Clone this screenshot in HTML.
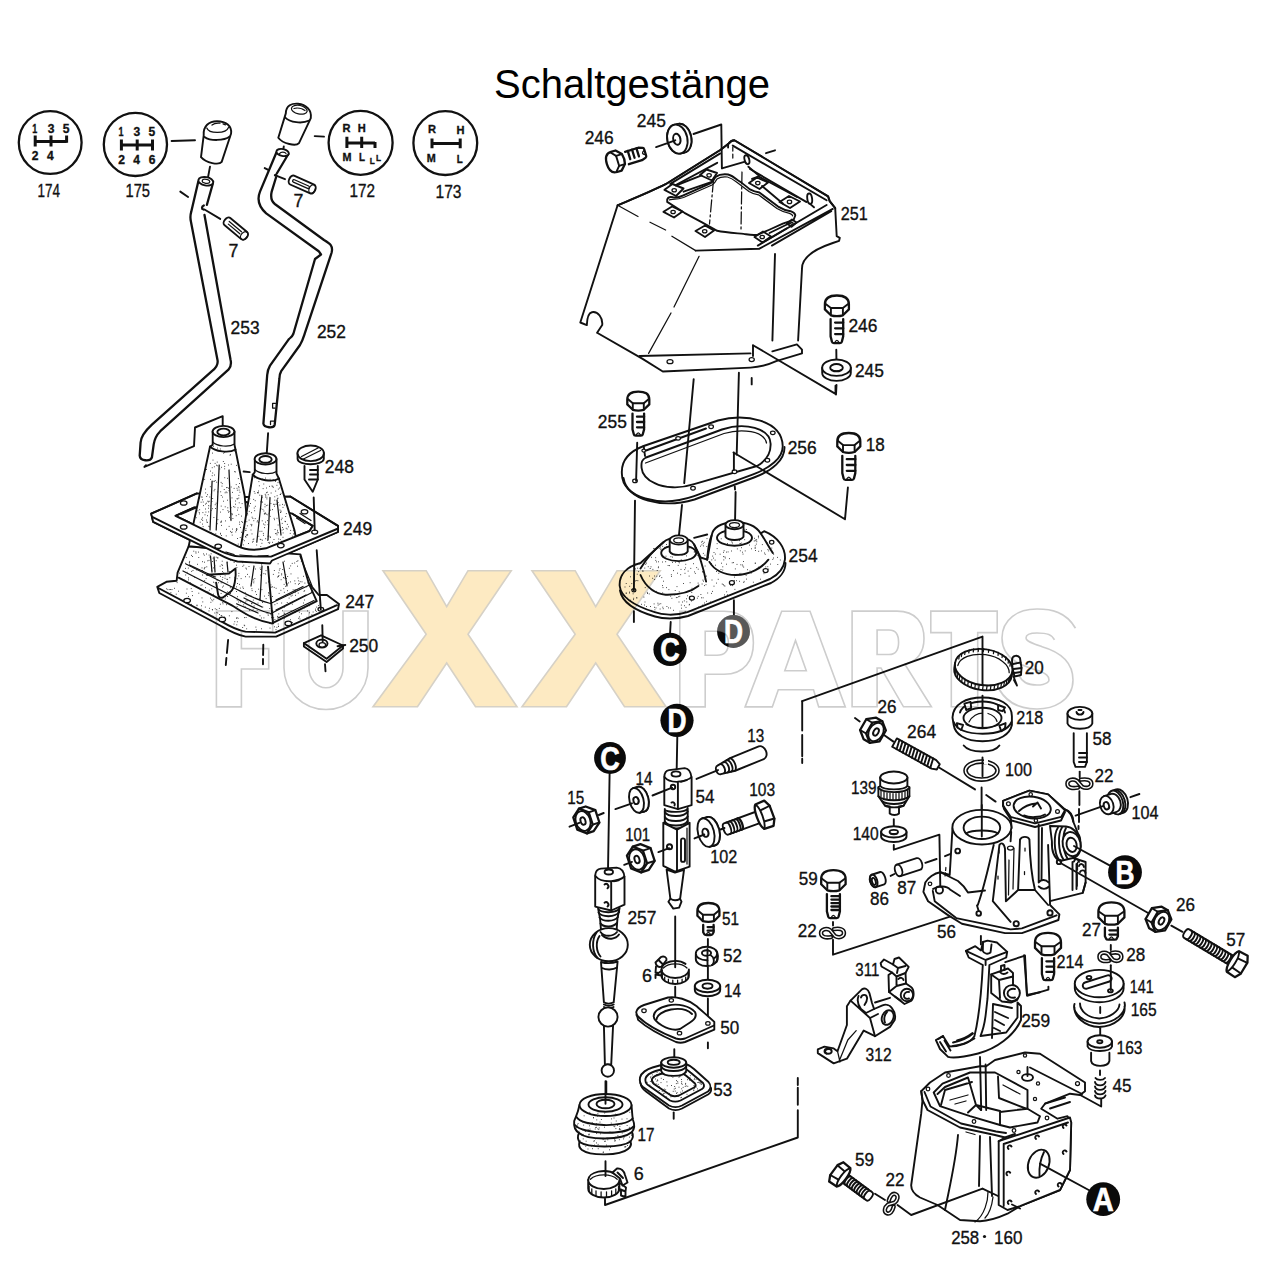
<!DOCTYPE html>
<html><head><meta charset="utf-8">
<title>Schaltgestänge</title>
<style>
html,body{margin:0;padding:0;background:#fff;}
body{width:1280px;height:1280px;overflow:hidden;position:relative;font-family:"Liberation Sans",sans-serif;}
svg{position:absolute;left:0;top:0;}
text{font-family:"Liberation Sans",sans-serif;fill:#111;stroke:#111;stroke-width:0.35;}
.k{fill:none;stroke:#111;stroke-width:1.9;stroke-linecap:round;stroke-linejoin:round;}
.k2{fill:none;stroke:#111;stroke-width:2.3;stroke-linecap:round;stroke-linejoin:round;}
.k3{fill:none;stroke:#111;stroke-width:3;stroke-linecap:butt;stroke-linejoin:round;}
.w{fill:#fff;stroke:#111;stroke-width:1.9;stroke-linecap:round;stroke-linejoin:round;}
.w2{fill:#fff;stroke:#111;stroke-width:2.3;stroke-linecap:round;stroke-linejoin:round;}
.h{fill:none;stroke:#111;stroke-width:1.25;stroke-linecap:round;stroke-linejoin:round;}
.hw{fill:#fff;stroke:#111;stroke-width:1.25;stroke-linecap:round;stroke-linejoin:round;}
.d{fill:none;stroke:#111;stroke-width:1.3;stroke-linecap:butt;stroke-dasharray:14 5;}
.b{fill:#111;stroke:none;}
.wm{fill:none;stroke:#cdcdcd;stroke-width:1.6;stroke-linejoin:miter;}
.wx{fill:#fdeac2;stroke:#d6d1c6;stroke-width:1.6;stroke-linejoin:miter;}
.dot{fill:#333;stroke:none;}
</style></head><body>
<svg width="1280" height="1280" viewBox="0 0 1280 1280">
<rect width="1280" height="1280" fill="#fff"/>
<!-- 00_wm.svg -->
<text x="632" y="97.5" font-size="40" text-anchor="middle" fill="#000" style="fill:#000;stroke:none">Schaltgestänge</text>

<!-- 10_topleft.svg -->
<g id="gearcircles">
<!-- 174 -->
<circle class="k2" cx="50.2" cy="142.5" r="31.4"/>
<path class="k3" d="M35.2,141.6 H66.6 M35.2,135.5 V146.6 M51,135.5 V146.6 M66.6,135.5 V142.7" stroke-width="2.6"/>
<text x="32.2" y="133.0" font-size="12.5" font-weight="bold" textLength="5.0" lengthAdjust="spacingAndGlyphs">1</text><text x="47.7" y="133.0" font-size="12.5" font-weight="bold" textLength="6.7" lengthAdjust="spacingAndGlyphs">3</text><text x="62.7" y="133.0" font-size="12.5" font-weight="bold" textLength="6.7" lengthAdjust="spacingAndGlyphs">5</text>
<text x="31.7" y="160.3" font-size="12.5" font-weight="bold" textLength="6.7" lengthAdjust="spacingAndGlyphs">2</text><text x="46.9" y="160.3" font-size="12.5" font-weight="bold" textLength="6.7" lengthAdjust="spacingAndGlyphs">4</text>
<text x="37.5" y="196.5" font-size="18.5" font-weight="normal" textLength="22.5" lengthAdjust="spacingAndGlyphs">174</text>
<!-- 175 -->
<circle class="k2" cx="135.4" cy="144.4" r="31.6"/>
<path class="k3" d="M121.4,145 H152.5 M121.4,139.5 V150.6 M137.2,139.5 V150.6 M152.5,139.5 V150.6" stroke-width="2.6"/>
<text x="118.5" y="135.6" font-size="12.5" font-weight="bold" textLength="5.0" lengthAdjust="spacingAndGlyphs">1</text><text x="133.6" y="135.6" font-size="12.5" font-weight="bold" textLength="6.7" lengthAdjust="spacingAndGlyphs">3</text><text x="148.6" y="135.6" font-size="12.5" font-weight="bold" textLength="6.7" lengthAdjust="spacingAndGlyphs">5</text>
<text x="118.2" y="164.0" font-size="12.5" font-weight="bold" textLength="6.7" lengthAdjust="spacingAndGlyphs">2</text><text x="133.2" y="164.0" font-size="12.5" font-weight="bold" textLength="6.7" lengthAdjust="spacingAndGlyphs">4</text><text x="148.7" y="164.0" font-size="12.5" font-weight="bold" textLength="6.7" lengthAdjust="spacingAndGlyphs">6</text>
<text x="125.5" y="197.2" font-size="18.5" font-weight="normal" textLength="24.5" lengthAdjust="spacingAndGlyphs">175</text>
<path class="k" d="M171.6,141 L195,140.2"/>
<!-- 172 -->
<circle class="k2" cx="360.6" cy="142.8" r="32"/>
<path class="k3" d="M346.9,143.1 H375 M346.9,136.7 V148 M361.7,136.7 V148 M375,142 V148" stroke-width="2.6"/>
<text x="342.6" y="132.2" font-size="11.5" font-weight="bold" textLength="8.0" lengthAdjust="spacingAndGlyphs">R</text><text x="357.7" y="132.2" font-size="11.5" font-weight="bold" textLength="8.0" lengthAdjust="spacingAndGlyphs">H</text>
<text x="342.4" y="161.4" font-size="11.5" font-weight="bold" textLength="9.0" lengthAdjust="spacingAndGlyphs">M</text><text x="358.9" y="161.4" font-size="11.5" font-weight="bold" textLength="6.0" lengthAdjust="spacingAndGlyphs">L</text>
<text x="369.7" y="164.2" font-size="9.0" font-weight="bold" textLength="5.0" lengthAdjust="spacingAndGlyphs">L</text><text x="376.1" y="160.6" font-size="9.0" font-weight="bold" textLength="5.0" lengthAdjust="spacingAndGlyphs">L</text>
<text x="349.5" y="197.0" font-size="18.5" font-weight="normal" textLength="25.5" lengthAdjust="spacingAndGlyphs">172</text>
<path class="k" d="M314.7,136.1 L324,136.6"/>
<!-- 173 -->
<circle class="k2" cx="445.3" cy="143.1" r="31.9"/>
<path class="k3" d="M432,143.4 H460.2 M432,138.5 V148.3 M460.2,138.5 V148.3" stroke-width="2.6"/>
<text x="428.0" y="133.0" font-size="11.5" font-weight="bold" textLength="8.0" lengthAdjust="spacingAndGlyphs">R</text><text x="456.5" y="133.7" font-size="11.5" font-weight="bold" textLength="8.0" lengthAdjust="spacingAndGlyphs">H</text>
<text x="426.7" y="162.2" font-size="11.5" font-weight="bold" textLength="9.0" lengthAdjust="spacingAndGlyphs">M</text><text x="456.7" y="163.1" font-size="11.5" font-weight="bold" textLength="6.0" lengthAdjust="spacingAndGlyphs">L</text>
<text x="435.5" y="197.8" font-size="18.5" font-weight="normal" textLength="26.0" lengthAdjust="spacingAndGlyphs">173</text>
</g>
<g id="knobs">
<!-- knob 1 -->
<path class="w" d="M203.7,135.3 C203,126 209,121.2 217,121.2 C226,121.2 232,126 231.1,133.5 L221.7,161.9 C219,165.5 206,163 201,157.2 Z"/>
<path class="k" d="M204.5,136.9 C210,141 224,141 229.7,136.5"/>
<path class="h" d="M206.8,128 C209,134 226,134 228.5,127.5"/>
<path class="h" d="M212,125 C214,123.3 218,123 220,123.2 M223,123.8 L225.5,124.8"/>
<path class="k" d="M210,166.6 L207.7,179"/>
<!-- knob 2 -->
<path class="w" d="M285.8,113.4 C286,105 292,103.3 298,103.7 C306,104.5 312,110 310.8,118.1 L299,143.1 C296,146.5 283,144 278.3,137.7 Z"/>
<path class="k" d="M285,117.3 C290,122.5 302,124 309.2,120.5"/>
<ellipse class="h" cx="299.3" cy="109.7" rx="8" ry="4.3" transform="rotate(12 299.3 109.7)"/>
<path class="h" d="M294,108.5 C297,107.5 302,108.5 305,110.5"/>
<path class="k" d="M283.8,146.5 L283.2,150"/>
</g>
<g id="tubes">
<!-- tube 253 -->
<path class="k2" d="M198.3,181.4 L191.2,211.9 C190,216 190.3,219 191,222 L217.5,360 C218.5,365 216,368 211.9,371.2 L151.9,424.7 C144,432 141,437 140.6,442.5 L139.7,455.6 C140,461 150,462 151.9,457.5 L153.7,444.4 C154.5,439 156,435.5 160.3,431.2 L228.7,369.4 C231,366.5 231.5,364 230.6,360 L204.5,215"/>
<path class="k2" d="M212.8,183.7 L206.9,204.8"/>
<ellipse class="w" cx="205.8" cy="181.3" rx="7.5" ry="4.2" transform="rotate(10 205.8 181.3)"/>
<ellipse class="h" cx="206" cy="181.3" rx="3.8" ry="2" transform="rotate(10 206 181.3)"/>
<path class="k2" d="M203.8,205.5 C201.5,206.5 201.5,209 203.5,209.5"/>
<path class="k" d="M204.5,209.5 L220.2,218.9"/>
<path class="k" d="M180.3,191.6 L188.1,197"/>
<!-- pin 7 lower -->
<g transform="translate(236.9,229.5) rotate(40)">
<path class="w" d="M-12.5,-4.6 H9.5 A3.2,4.6 0 0 1 9.5,4.6 H-12.5 A3,4.6 0 0 1 -12.5,-4.6 Z"/>
<ellipse class="h" cx="9.5" cy="0" rx="3" ry="4.4"/>
<path class="h" d="M-11,-1.2 H5 M-10,1.4 H5"/>
</g>
<text x="228.5" y="257.2" font-size="18.5" font-weight="normal" textLength="9.9" lengthAdjust="spacingAndGlyphs">7</text>
<!-- tube 252 -->
<path class="k2" d="M276.4,152.5 L260,191.6 C257,199 258,206 266.2,213.4 L318.7,251.2 L321,254.5 L315,259 L293.4,333.7 C292,337 291,337 288.7,339.4 L270,365.6 C268,369 267.5,371 267.2,375 L263.4,423.7 C264,428 274,428.5 274.7,424.7 L279.4,378.7 C279.5,376 279.8,373.5 281.2,371.2 L300,345 C302.5,341 303,339 304.7,333.7 L331.5,253 C333.5,246 330,243.5 324,240 L274.8,204 C271,201 270.5,197 271.7,191.6 L276,177.5 M276.8,173.5 L288.4,154"/>
<ellipse class="w" cx="282.6" cy="152.5" rx="6.3" ry="3.4" transform="rotate(12 282.6 152.5)"/>
<path class="h" d="M279.5,153.5 C281,151.5 285,151.8 286,153.5"/>
<path class="k" d="M274.8,175.2 L285,179.2"/>
<circle class="b" cx="275.8" cy="175.2" r="1.5"/>
<path class="k" d="M264.7,168.1 L267.8,169.7"/>
<path class="h" d="M275.5,403.3 H272.6 V408 H275"/>
<path class="h" d="M274,421 H270.5 V424.5"/>
<!-- pin 7 upper -->
<g transform="translate(303.5,185.2) rotate(24)">
<path class="w" d="M-12.5,-4.8 H9.5 A3.2,4.8 0 0 1 9.5,4.8 H-12.5 A3,4.8 0 0 1 -12.5,-4.8 Z"/>
<ellipse class="h" cx="9.5" cy="0" rx="3" ry="4.6"/>
<path class="h" d="M-10.5,-1.3 H5 A1.3,1.3 0 0 1 5,1.3 H-10.5 A1.3,1.3 0 0 1 -10.5,-1.3 Z"/>
</g>
<text x="293.5" y="207.2" font-size="18.5" font-weight="normal" textLength="9.9" lengthAdjust="spacingAndGlyphs">7</text>
<text x="230.6" y="333.7" font-size="18.5" font-weight="normal" textLength="29.0" lengthAdjust="spacingAndGlyphs">253</text>
<text x="316.9" y="337.5" font-size="18.5" font-weight="normal" textLength="29.0" lengthAdjust="spacingAndGlyphs">252</text>
<path class="k" d="M144.4,466.9 L146,465.2 M144.4,466.9 L194,446.2 L195,427.5 L222.7,416.2 L222.7,436"/>
<path class="k" d="M268.1,433.1 L266.6,455.6"/>
</g>

<!-- 20_boot.svg -->
<g id="boot">
<!-- plate 249 back -->
<path class="w" d="M151.2,513.7 L196.9,493.4 L245,497 L290.3,496.5 L338,525.9 L338,532 L272,560.5 L270,563.5 L237.5,561.5 C230,560 224,557 219.2,554.4 L153.2,521.9 Z"/>
<path class="k" d="M175.5,515.8 L194,507.5 L246,502 L292.3,513.7 L312.7,525.9 L309.6,531 L265.9,548.3 C256,550.5 245,550 237.5,546.2 Z"/>
<path class="h" d="M181,514.5 L196,508 M181.5,518.5 L190,522.5 M300,513.5 L311,520.5 M296.5,518 L305,523.5"/>
<!-- lower housing 247 -->
<path class="w" d="M157.3,586.9 L166.4,581.8 L176.6,580.8 L177.6,572.7 L188.7,546.2 L300.5,554.4 L308.6,582.8 L318.7,595 L326.9,595 L339,604.1 L338,609.2 L276.1,636.6 L245.6,636.6 C236,635 228,630 220.2,625.5 L159.3,593 Z"/>
<path class="k" d="M158.3,588 L221.2,621.4 C229,626 237,630.5 245.6,631.6 L275.1,632.6 L337,605.2"/>
<path class="k" d="M178.6,577.7 L231.4,605.2 C240,610 252,620 272,623.4 L316.7,601.1 L308.6,582.8"/>
<path class="k" d="M268,566.6 L273,623.4"/>
<path class="h" d="M183,571 L232,596 C245,603 255,610 271,613.5 L312,592.5"/>
<path class="h" d="M186,564 L236,589 C246,594 256,600 270.5,603.5 L309.5,585"/>
<path class="h" d="M189.5,565 L215,577 M276,610 L306,595 M276,600 L303,586.5 M278,618 L314,600.5"/>
<path class="k" d="M207,574.7 L229,573.5 L235.5,568.6 C236.5,578 234,588 231.4,591 L223,597.5 C220,598.5 218.5,597 218,594 L216.2,582.8"/>
<path class="h" d="M210.5,556 L212,572 M214,557 L215,572 M227,562 L228,572"/>
<path class="h" d="M254,566 L251,586 M262,566 L260,600 M283,562 L287,586"/>
<path class="h" d="M244,598 L262,607 M237,604 L258,613"/>
<path class="h" d="M300,556 L312,586"/>
<!-- boot 1 -->
<path class="w" d="M212.7,431.5 V444.7 L210,446.7 L193.8,521.9 L188.7,546.2 L250,552 L244.6,495.5 L235.5,449.8 L234.5,444.7 V431.5"/>
<path class="k" d="M210,446.5 C215,451.5 229,453.5 235.5,449.5"/>
<path class="h" d="M212.7,442 C217,446.5 229,447.5 234.5,444"/>
<ellipse class="w" cx="223.5" cy="431.5" rx="10.9" ry="5.6"/>
<ellipse class="k" cx="223.5" cy="432" rx="6.2" ry="3.4"/>
<path class="h" d="M219.2,465 L216.2,530 M212.1,481.2 L210,530 M229,470 L231,520"/>
<!-- boot 2 -->
<path class="w" d="M254.8,458.9 V472 L252.7,475.2 L241.6,542.2 L240,552 L298,548 L294.4,530 L279.1,479.2 L276.5,473.5 V458.9"/>
<path class="k" d="M252.7,474.5 C258,480.5 273,482.5 279.1,478.5"/>
<path class="h" d="M254.8,469.5 C259,474 271,475 276.5,471.5"/>
<ellipse class="w" cx="265.5" cy="458.9" rx="10.9" ry="5.6"/>
<ellipse class="k" cx="265.5" cy="459.4" rx="6.2" ry="3.4"/>
<path class="h" d="M261.9,495.5 L256.8,542.2 M270,497.5 L268,540 M277,500 L281,535"/>
<path class="k" d="M243.6,471.5 L249.7,472.1"/>
<path d="M235.2,472.0h.01M220.7,491.8h.01M229.1,526.4h.01M239.1,490.1h.01M217.9,519.6h.01M205.5,489.1h.01M217.5,496.6h.01M206.4,469.5h.01M205.7,492.9h.01M239.2,502.8h.01M228.6,465.0h.01M232.9,518.5h.01M238.8,514.4h.01M210.2,505.9h.01M241.6,532.3h.01M221.2,506.1h.01M237.0,488.3h.01M203.2,502.0h.01M231.9,514.8h.01M214.1,490.8h.01M221.4,525.4h.01M222.0,486.1h.01M220.3,449.0h.01M196.2,517.7h.01M215.1,463.4h.01M221.0,546.2h.01M235.6,501.0h.01M221.6,543.2h.01M225.1,492.8h.01M208.4,501.9h.01M236.3,529.7h.01M241.8,521.5h.01M237.7,498.9h.01M224.2,489.5h.01M224.7,466.4h.01M221.2,495.5h.01M213.1,481.3h.01M223.0,509.6h.01M227.0,492.7h.01M203.4,505.6h.01M240.5,527.4h.01M237.0,529.3h.01M207.6,531.9h.01M230.3,454.5h.01M234.8,471.5h.01M199.7,509.7h.01M212.5,453.1h.01M202.5,499.8h.01M232.4,492.4h.01M211.3,494.3h.01M216.6,465.2h.01M221.4,467.3h.01M226.6,529.3h.01M201.7,519.3h.01M202.5,517.9h.01M230.6,501.6h.01M237.0,498.7h.01M205.9,512.1h.01M215.2,504.7h.01M211.2,510.4h.01M246.3,535.3h.01M210.4,533.6h.01M210.6,541.8h.01M234.1,488.4h.01M238.2,544.1h.01M224.7,463.5h.01M240.8,545.3h.01M232.0,497.9h.01M214.3,481.4h.01M205.0,514.8h.01M217.3,465.8h.01M199.5,513.9h.01M209.8,497.0h.01M211.4,534.9h.01M204.7,479.4h.01M247.3,525.8h.01M212.2,467.7h.01M230.4,531.4h.01M241.6,516.1h.01M206.5,520.0h.01M234.9,507.2h.01M239.4,483.5h.01M212.2,475.7h.01M240.8,507.6h.01M245.5,536.5h.01M201.1,502.2h.01M236.5,530.5h.01M212.3,508.7h.01M236.2,484.6h.01M224.7,468.8h.01M242.1,503.6h.01M243.9,492.7h.01M208.8,526.3h.01M230.1,455.4h.01M206.9,521.9h.01M214.3,545.0h.01M207.5,494.7h.01M199.2,512.5h.01M226.1,491.9h.01M243.3,544.9h.01M205.5,509.0h.01M231.1,513.5h.01M207.8,501.2h.01M210.5,471.1h.01M229.1,511.6h.01M210.4,479.4h.01M211.0,532.4h.01M211.9,501.5h.01M225.2,506.8h.01M223.7,453.2h.01M197.9,510.8h.01M209.6,526.8h.01M220.5,534.0h.01M202.2,497.1h.01M235.9,546.5h.01M238.3,478.6h.01M199.6,498.5h.01M210.9,538.1h.01M237.4,538.5h.01M239.4,522.1h.01M231.2,464.2h.01M217.2,462.1h.01M232.5,514.1h.01M246.0,528.4h.01M223.6,501.2h.01M239.9,492.2h.01M215.2,480.5h.01M228.8,488.5h.01M224.7,452.4h.01M213.0,460.1h.01M238.7,486.6h.01M215.5,508.5h.01M222.5,497.1h.01M229.0,490.7h.01M231.0,520.6h.01M206.7,496.5h.01M219.8,469.0h.01M216.1,503.2h.01M243.0,539.6h.01M208.7,511.9h.01M221.5,535.5h.01M202.4,524.1h.01M231.3,532.6h.01M213.9,517.5h.01M233.7,506.6h.01M240.2,537.5h.01M205.6,504.1h.01M234.9,451.3h.01M230.7,519.1h.01M212.7,498.5h.01M202.7,520.4h.01M237.6,510.1h.01M208.3,539.1h.01M235.8,531.9h.01M229.6,517.4h.01M217.9,540.3h.01M237.3,490.2h.01M226.4,487.6h.01M207.3,522.5h.01M217.6,448.1h.01M227.8,507.8h.01M209.2,501.3h.01M208.6,505.7h.01M207.4,515.7h.01M236.7,528.5h.01M220.4,533.3h.01M235.5,504.2h.01M214.6,475.0h.01M199.7,528.4h.01M200.2,522.2h.01M223.4,544.4h.01M235.0,545.3h.01M201.2,497.0h.01M224.8,477.7h.01M221.1,482.4h.01M217.8,491.9h.01M210.3,486.7h.01M236.2,515.7h.01M220.5,512.1h.01M214.3,466.8h.01M226.2,535.9h.01M238.8,498.1h.01M239.0,487.7h.01M234.2,546.7h.01M210.3,463.4h.01M227.4,500.2h.01M213.3,446.4h.01M214.9,489.4h.01M215.8,533.8h.01M225.5,520.9h.01M242.5,522.4h.01M220.5,522.1h.01M228.5,512.2h.01M227.9,487.5h.01M227.9,510.6h.01M244.6,525.8h.01M239.7,524.3h.01M238.0,507.8h.01M212.7,473.0h.01M232.2,535.1h.01M223.3,461.5h.01M238.9,495.4h.01M219.1,450.6h.01M221.5,522.0h.01M216.7,482.2h.01M221.3,542.5h.01M231.2,487.0h.01M231.1,507.7h.01M222.2,483.6h.01M221.5,521.1h.01M202.9,512.6h.01M232.5,529.1h.01M208.4,508.2h.01M206.4,503.2h.01M203.1,526.6h.01M240.8,479.6h.01M232.1,532.1h.01M227.5,478.3h.01M217.2,523.7h.01M236.4,465.4h.01" fill="none" stroke="#222" stroke-width="1.00" stroke-linecap="round"/><path d="M287.1,529.0h.01M278.0,498.2h.01M274.6,519.7h.01M273.2,487.4h.01M265.0,504.3h.01M265.8,495.3h.01M266.9,498.9h.01M262.3,540.2h.01M270.2,516.4h.01M254.4,477.7h.01M259.3,485.8h.01M278.3,489.1h.01M290.2,533.4h.01M281.6,541.3h.01M283.1,532.9h.01M260.8,546.6h.01M282.6,527.5h.01M266.7,514.2h.01M268.3,542.6h.01M268.8,535.9h.01M260.9,539.6h.01M272.5,542.3h.01M281.0,511.0h.01M253.7,499.4h.01M279.7,488.0h.01M269.0,513.3h.01M277.0,518.3h.01M258.6,491.0h.01M269.4,543.3h.01M275.5,481.4h.01M286.2,528.3h.01M277.1,495.7h.01M253.9,539.0h.01M247.4,513.6h.01M253.1,539.4h.01M264.6,527.6h.01M251.0,524.4h.01M251.6,525.8h.01M262.6,479.1h.01M275.1,529.5h.01M283.3,529.3h.01M290.7,530.4h.01M288.5,526.8h.01M267.3,492.2h.01M277.5,498.8h.01M247.2,508.2h.01M273.4,504.3h.01M269.6,486.4h.01M274.6,506.2h.01M246.8,521.7h.01M254.2,508.0h.01M255.2,518.6h.01M275.6,533.6h.01M280.2,494.5h.01M264.6,513.9h.01M263.8,484.0h.01M281.0,493.3h.01M254.2,491.6h.01M269.9,509.4h.01M258.4,522.2h.01M253.2,541.3h.01M265.2,512.8h.01M273.2,479.7h.01M264.3,513.8h.01M285.3,502.4h.01M269.8,542.3h.01M274.8,496.8h.01M287.3,524.4h.01M263.9,511.0h.01M252.9,518.4h.01M261.9,543.3h.01M245.8,530.4h.01M252.1,517.2h.01M262.9,509.4h.01M282.6,504.4h.01M246.0,537.2h.01M277.5,532.0h.01M281.0,511.9h.01M261.1,508.9h.01M270.2,510.4h.01M293.5,533.9h.01M292.3,536.2h.01M257.7,492.7h.01M268.2,494.7h.01M264.9,524.9h.01M249.6,506.0h.01M276.9,485.3h.01M257.7,492.7h.01M278.1,525.0h.01M265.5,513.7h.01M247.7,514.9h.01M293.3,530.4h.01M246.8,513.2h.01M280.5,494.5h.01M279.9,505.1h.01M272.8,486.4h.01M265.6,478.1h.01M274.0,539.5h.01M251.4,512.7h.01M267.8,505.2h.01M280.0,510.0h.01M282.2,523.4h.01M283.0,537.3h.01M253.8,520.7h.01M263.5,524.0h.01M280.3,539.6h.01M277.0,534.8h.01M281.3,519.7h.01M247.1,534.7h.01M282.1,518.2h.01M252.0,533.9h.01M249.1,520.1h.01M265.2,494.3h.01M272.4,509.6h.01M268.0,536.3h.01M277.4,530.3h.01M268.0,524.6h.01M259.8,495.2h.01M245.9,530.3h.01M251.0,530.0h.01M284.3,505.1h.01M278.3,532.7h.01M250.4,503.5h.01M266.9,497.2h.01M270.9,503.5h.01M265.7,538.7h.01M258.4,522.7h.01M267.9,514.8h.01M276.8,533.3h.01M277.1,504.3h.01M276.1,504.2h.01M270.5,537.3h.01M285.0,521.3h.01M258.4,492.8h.01M266.5,492.7h.01M256.7,545.0h.01M247.7,534.9h.01M262.2,502.3h.01M258.9,481.6h.01M266.5,488.0h.01M265.6,497.0h.01M265.6,522.1h.01M251.9,524.8h.01M261.9,501.6h.01M285.6,521.6h.01M263.4,535.3h.01M260.2,539.3h.01M282.0,530.1h.01M257.5,520.8h.01M278.1,502.5h.01M263.1,488.6h.01M267.5,540.3h.01M260.7,501.9h.01M283.0,507.4h.01M271.1,493.0h.01M257.1,521.9h.01M249.8,498.8h.01M255.3,506.3h.01M255.2,500.7h.01M255.0,493.3h.01M274.8,500.2h.01M261.9,531.3h.01M270.1,536.9h.01M260.0,531.3h.01M274.8,504.4h.01M267.4,520.6h.01M258.8,536.3h.01M274.1,518.3h.01M266.3,505.6h.01M270.1,479.3h.01M248.6,543.5h.01M278.6,541.9h.01M251.0,486.6h.01M278.0,482.6h.01M244.3,540.7h.01M254.7,510.7h.01M272.0,486.0h.01M268.9,480.3h.01M252.5,542.1h.01M286.3,513.6h.01M278.7,539.0h.01M249.2,511.4h.01M262.2,520.8h.01M280.6,512.5h.01M247.3,534.9h.01M275.7,491.1h.01M262.1,497.4h.01M265.0,506.8h.01M263.3,533.4h.01M285.7,516.5h.01" fill="none" stroke="#222" stroke-width="1.00" stroke-linecap="round"/><path d="M211.8,588.8h.01M230.2,593.3h.01M214.8,565.6h.01M295.2,583.7h.01M267.1,613.1h.01M251.5,603.6h.01M284.3,592.3h.01M299.3,583.5h.01M278.8,613.9h.01M278.1,617.1h.01M197.6,564.3h.01M266.0,570.6h.01M249.3,576.9h.01M227.5,591.9h.01M260.0,615.8h.01M273.7,617.7h.01M304.7,590.7h.01M278.1,563.8h.01M294.5,591.0h.01M235.8,559.3h.01M278.8,572.8h.01M206.1,578.6h.01M303.6,576.3h.01M242.8,587.0h.01M268.4,592.7h.01M256.6,594.5h.01M309.7,586.0h.01M238.7,602.0h.01M211.7,570.6h.01M236.5,591.5h.01M266.1,583.0h.01M273.3,574.4h.01M277.1,603.4h.01M272.8,620.2h.01M213.6,582.2h.01M261.2,572.0h.01M229.3,571.5h.01M230.1,592.7h.01M220.5,576.3h.01M258.0,603.1h.01M221.8,564.7h.01M290.7,565.9h.01M204.7,580.6h.01M223.5,573.0h.01M294.8,580.9h.01M297.9,560.7h.01M225.5,596.8h.01M302.0,581.8h.01M210.0,557.1h.01M252.4,562.3h.01M291.1,610.9h.01M204.2,568.9h.01M291.1,596.1h.01M291.0,573.9h.01M196.7,569.9h.01M289.3,568.3h.01M226.9,579.3h.01M237.1,578.7h.01M282.5,610.8h.01M271.0,586.9h.01M218.9,573.6h.01M260.7,569.5h.01M304.6,600.0h.01M304.0,591.3h.01M202.6,570.5h.01M271.0,587.4h.01M263.9,573.6h.01M245.1,606.7h.01M227.6,562.8h.01M253.1,609.3h.01M266.2,612.7h.01M185.6,568.4h.01M216.0,587.5h.01M237.6,583.5h.01M186.2,557.5h.01M196.0,553.1h.01M222.6,571.6h.01M227.6,596.5h.01M260.4,575.1h.01M205.2,572.7h.01M278.4,576.5h.01M189.7,561.4h.01M230.6,593.3h.01M287.7,576.5h.01M290.3,594.7h.01M238.8,575.9h.01M247.8,600.7h.01M237.2,600.1h.01M242.8,566.4h.01M253.3,600.1h.01M188.6,579.9h.01M215.1,582.8h.01M270.9,614.6h.01M289.1,598.1h.01M280.9,590.3h.01M191.4,555.4h.01M301.3,561.4h.01M272.5,610.7h.01M311.4,591.4h.01M285.6,586.3h.01M187.1,572.3h.01M257.2,610.1h.01M212.4,561.5h.01M213.4,594.2h.01M283.6,577.5h.01M229.8,577.7h.01M227.4,579.4h.01M274.9,604.7h.01M272.5,586.8h.01M246.0,596.2h.01M306.4,586.8h.01M240.4,601.9h.01M204.5,568.1h.01M206.4,591.9h.01M222.5,565.4h.01M274.9,619.5h.01M260.1,568.0h.01M245.4,576.7h.01M202.6,575.0h.01M245.5,592.9h.01M293.1,589.8h.01M245.7,602.1h.01M298.0,578.0h.01M243.8,565.2h.01M272.7,619.9h.01M297.6,566.2h.01M205.0,567.4h.01M222.3,579.7h.01M219.3,574.7h.01M259.5,598.7h.01M179.6,573.1h.01M239.4,584.4h.01M207.9,591.9h.01M286.3,604.8h.01M219.8,598.7h.01M269.8,608.5h.01M247.4,574.4h.01M278.7,598.9h.01M268.6,595.3h.01M261.9,589.6h.01M268.9,582.3h.01M222.2,561.2h.01M283.8,588.7h.01M281.7,574.9h.01M215.7,576.8h.01M249.0,566.5h.01M285.8,574.6h.01M225.0,578.3h.01M254.1,605.9h.01M194.2,568.3h.01M192.5,556.5h.01M287.2,602.5h.01M204.4,562.2h.01M236.7,603.7h.01M292.3,604.2h.01M234.1,562.5h.01M252.1,590.6h.01M206.8,566.8h.01M255.6,591.7h.01M274.3,570.5h.01M298.5,584.3h.01M262.4,602.5h.01M270.9,584.9h.01M251.6,582.5h.01M205.6,587.7h.01M268.6,581.3h.01M289.1,594.7h.01M185.7,575.0h.01M211.1,553.8h.01M298.2,593.1h.01M281.7,573.8h.01M298.7,580.8h.01M284.1,584.4h.01M193.8,551.2h.01M189.5,563.0h.01M201.0,585.3h.01M276.1,588.3h.01M237.4,596.7h.01M221.1,582.8h.01M284.1,578.1h.01M278.9,575.5h.01M230.3,587.7h.01M261.7,564.8h.01M242.7,562.6h.01M207.8,560.8h.01M234.9,560.6h.01M202.1,584.8h.01M241.1,578.6h.01M234.8,577.7h.01M209.1,555.1h.01M265.4,574.0h.01M195.9,551.9h.01M280.0,568.6h.01M288.4,582.9h.01M213.4,567.9h.01M292.2,595.2h.01M273.7,620.7h.01M221.1,593.5h.01M194.6,577.2h.01M225.2,599.0h.01M281.7,603.0h.01M295.1,589.5h.01M236.4,565.2h.01M287.3,584.0h.01M216.2,560.7h.01M279.1,593.4h.01M277.7,577.0h.01M243.7,604.9h.01M268.1,613.9h.01M300.2,581.7h.01M303.6,603.0h.01M225.1,575.8h.01M188.6,577.9h.01M209.3,590.2h.01M237.1,606.6h.01M262.8,607.1h.01M253.2,562.1h.01M203.4,553.9h.01M190.6,582.9h.01M264.4,596.1h.01M284.7,613.4h.01M226.8,593.2h.01M295.1,592.6h.01M292.2,563.4h.01M253.8,582.8h.01M226.9,584.3h.01M281.1,579.7h.01M269.0,593.4h.01M208.5,574.3h.01M209.0,560.4h.01M263.9,617.9h.01M253.3,579.4h.01M286.4,578.5h.01M204.3,555.2h.01M279.3,570.1h.01M251.0,595.9h.01M217.1,580.4h.01M282.7,569.5h.01M193.0,570.5h.01M230.5,560.1h.01M222.1,582.7h.01M251.9,588.7h.01M218.4,582.7h.01M220.1,566.2h.01M185.6,563.3h.01M285.9,582.9h.01M238.9,573.4h.01M191.7,571.4h.01M236.9,567.5h.01M184.7,580.2h.01M266.1,598.6h.01M213.1,558.2h.01M284.3,607.2h.01M249.5,610.3h.01M255.5,569.0h.01M268.2,615.3h.01M304.9,583.1h.01M271.4,617.6h.01M292.1,593.2h.01M236.4,586.9h.01M202.4,561.7h.01M273.9,622.4h.01M254.9,578.6h.01M227.7,582.1h.01M290.5,581.9h.01M222.5,587.1h.01M258.7,589.2h.01M246.6,569.0h.01M277.5,616.4h.01M230.4,586.6h.01M222.7,568.3h.01M222.8,577.4h.01M217.9,557.9h.01M189.6,565.2h.01M206.5,554.0h.01M252.0,603.7h.01M295.5,595.3h.01M188.3,568.1h.01M245.9,568.1h.01M272.6,596.5h.01M198.4,552.1h.01M284.5,561.2h.01M312.5,588.1h.01M217.7,557.8h.01M198.8,557.5h.01M189.3,562.4h.01M246.2,600.8h.01M287.6,590.7h.01M243.3,588.4h.01M240.3,588.1h.01M294.7,563.0h.01M261.4,618.0h.01M296.9,561.5h.01M202.0,567.9h.01M274.2,587.4h.01M253.9,581.1h.01M223.6,586.0h.01M230.7,571.9h.01M228.6,593.1h.01M216.2,557.2h.01" fill="none" stroke="#222" stroke-width="1.00" stroke-linecap="round"/><path d="M214.8,613.0h.01M289.5,624.6h.01M320.9,610.2h.01M188.6,596.6h.01M209.6,608.3h.01M223.0,619.1h.01M216.8,609.5h.01M170.9,592.7h.01M295.4,612.4h.01M202.0,597.9h.01M191.4,604.4h.01M269.8,622.7h.01M167.9,589.6h.01M169.8,589.6h.01M334.8,605.4h.01M202.8,601.9h.01M307.1,606.4h.01M324.3,609.8h.01M300.0,619.0h.01M219.6,614.5h.01M301.5,613.8h.01M304.2,607.9h.01M170.7,589.5h.01M315.4,609.1h.01M313.1,612.0h.01M184.6,599.5h.01M201.4,605.8h.01M316.7,607.1h.01M236.8,624.8h.01M234.8,621.7h.01M191.2,588.6h.01M255.9,627.1h.01M215.2,608.8h.01M246.1,617.5h.01M223.2,620.1h.01M242.7,627.5h.01M299.3,612.3h.01M174.6,588.3h.01M319.6,600.0h.01M261.6,628.8h.01M269.4,623.4h.01M231.9,611.6h.01M217.8,613.0h.01M176.2,594.2h.01M186.3,593.2h.01M177.1,582.6h.01M284.3,618.3h.01M276.0,629.6h.01M309.4,605.7h.01M172.0,589.6h.01M229.3,615.8h.01M187.0,589.0h.01M201.1,609.2h.01M244.4,617.6h.01M307.6,610.9h.01M274.5,626.8h.01M311.9,614.8h.01M309.4,612.8h.01M292.5,622.6h.01M212.8,600.8h.01M212.9,616.2h.01M299.6,616.9h.01M271.1,623.9h.01M216.9,612.6h.01M205.3,607.1h.01M278.4,626.4h.01M220.3,604.2h.01M212.5,609.9h.01M276.9,627.3h.01M192.1,591.5h.01M278.2,624.0h.01M178.5,591.2h.01M224.1,618.9h.01M166.7,588.8h.01M198.8,593.2h.01M224.4,617.1h.01M226.5,604.7h.01M223.0,603.8h.01M298.7,618.3h.01M212.3,609.5h.01M318.4,605.6h.01M237.3,621.8h.01M192.4,595.6h.01M221.2,615.5h.01M256.3,629.9h.01M219.3,608.4h.01M316.3,611.4h.01M244.2,625.2h.01M197.0,605.1h.01M210.9,602.3h.01M209.0,610.9h.01M213.8,599.3h.01M245.4,614.2h.01M197.0,605.7h.01M211.7,599.8h.01M238.1,618.3h.01M221.8,615.8h.01M246.7,628.8h.01M236.6,618.3h.01M290.6,619.7h.01M278.5,626.3h.01M307.0,617.3h.01M237.0,617.6h.01M315.5,610.4h.01M270.0,628.1h.01M210.4,598.1h.01M244.7,625.7h.01M222.8,602.5h.01M234.0,624.1h.01M185.0,599.4h.01" fill="none" stroke="#222" stroke-width="1.00" stroke-linecap="round"/>
<!-- plate 249 front band -->
<path class="w" d="M151.2,513.7 L175.5,515.8 L237.5,546.2 C245,550 256,550.5 265.9,548.3 L309.6,531 L312.7,525.9 L338,525.9 L338,532 L272,560.5 L270,563.5 L237.5,561.5 C230,560 224,557 219.2,554.4 L153.2,521.9 Z" stroke="none" style="stroke:none"/>
<path class="k" d="M196.9,493.4 L151.2,513.7 L153.2,521.9 L219.2,554.4 C224,557 230,560 237.5,561.5 L270,563.5 L272,560.5 L338,532 L338,525.9 L290.3,496.5"/>
<path class="k" d="M152.2,516.8 L221.2,551.3 C227,554 233,556 239.5,556.4 L271,556.6 L337,529"/>
<path class="k" d="M194,507.5 L175.5,515.8 L237.5,546.2 C245,550 256,550.5 265.9,548.3 L309.6,531 L312.7,525.9 L292.3,513.7"/>
<path class="h" d="M226,552 L234,554.5 M240,555 L252,556 M258,556 L268,555.5" />
<g class="hw">
<ellipse cx="183.7" cy="503" rx="3.3" ry="2.2"/><ellipse cx="183.7" cy="527" rx="3.3" ry="2.2"/><ellipse cx="218.2" cy="546.2" rx="3.3" ry="2.2"/>
<ellipse cx="280.8" cy="545.6" rx="3.3" ry="2.2"/><ellipse cx="304.5" cy="511.7" rx="3.3" ry="2.2"/><ellipse cx="314.7" cy="532" rx="3" ry="2"/>
<ellipse cx="187.1" cy="600.5" rx="3.3" ry="2.2"/><ellipse cx="222.3" cy="619.4" rx="3.3" ry="2.2"/><ellipse cx="288.3" cy="623.4" rx="3.3" ry="2.2"/><ellipse cx="320.8" cy="609.2" rx="2.8" ry="1.8"/>
</g>
<!-- screw 248 -->
<path class="w" d="M297.6,453 V459 C298,466 323,466 323.8,459 V453"/>
<ellipse class="w" cx="310.7" cy="453.3" rx="13.2" ry="7.8"/>
<path class="h" d="M301.5,456.5 L318,448 M303.5,459 L320.5,450.5"/>
<path class="w" d="M304.5,466 V479.5 L312.7,491.8 L317.8,479.5 V466"/>
<path class="k" d="M310,470 H317.8 M310,474.5 H317.8 M309,479.5 H317.8"/>
<text x="324.8" y="473.1" font-size="18.5" font-weight="normal" textLength="29.0" lengthAdjust="spacingAndGlyphs">248</text>
<path class="k" d="M313.7,497.5 L314.7,530 M316.7,550.3 L320.8,609.2"/>
<text x="343.1" y="535.0" font-size="18.5" font-weight="normal" textLength="29.0" lengthAdjust="spacingAndGlyphs">249</text>
<text x="345.2" y="608.2" font-size="18.5" font-weight="normal" textLength="29.0" lengthAdjust="spacingAndGlyphs">247</text>
<!-- nut 250 -->
<path class="w" d="M303.9,643.1 L321.1,635.3 L343,645.5 L326.6,658.7 Z"/>
<path class="k" d="M303.9,643.1 V646.5 L326.6,662 L343,648.5 V645.5"/>
<ellipse class="w" cx="321.9" cy="643.6" rx="5.6" ry="4"/>
<ellipse class="h" cx="322.3" cy="645" rx="3.3" ry="2.3"/>
<path class="k" d="M322.3,625.2 L322.7,641.6 M325,664.2 L325.5,671.2 M337.5,646.2 L345.3,645"/>
<text x="349.2" y="651.9" font-size="18.5" font-weight="normal" textLength="29.0" lengthAdjust="spacingAndGlyphs">250</text>
<path class="k" d="M228.1,640 L226.9,653 M226.4,658 L225.8,665 M263.3,644.7 L263.1,655 M263,659 V664.2"/>
</g>

<!-- 30_cover.svg -->
<g id="cover251">
<!-- main body -->
<path d="M617.6,205.3 C635,198 650,192 665.6,184.2 L720.3,150 L728.1,144.1 C730,141.5 732.5,140.2 734.4,140.2 L828.1,196.4 L829.7,201.1 L835.2,208.1 L836.7,236.2 L839.8,237.8 L839.1,240.9 L832.8,243 C812,250 802,258 802,268.4 L798.1,340.5 L772.4,340.5 L772.4,351.4 L796.9,344.4 L802,349.6 L802,353.4 L776.2,361.2 C768,365 760,367 750.5,367.6 L662.8,371.5 L642.2,358.6 L597.1,332.8 L602.2,325.1 C603,318 598,311 591.9,312.2 C588,313 587,320 586.8,325.1 L580.3,322.5 Z" fill="#fff" stroke="none"/>
<path class="k" d="M617.6,205.3 C635,198 650,192 665.6,184.2 L720.3,150 L728.1,144.1 C730,141.5 732.5,140.2 734.4,140.2 L828.1,196.4 L829.7,201.1 L835.2,208.1 L836.7,236.2 L839.8,237.8 L839.1,240.9 L832.8,243 C812,250 802,258 802,268.4 L798.1,340.5 M772.4,351.4 L796.9,344.4 L802,349.6 L802,353.4 L776.2,361.2 C768,365 760,367 750.5,367.6 L662.8,371.5 L642.2,358.6 L597.1,332.8 L602.2,325.1 C603,318 598,311 591.9,312.2 C588,313 587,320 586.8,325.1 L580.3,322.5 L617.6,205.3"/>
<!-- rims -->
<path class="k" d="M617.6,205.3 C635,198 650,192 665.6,184.2 L720.3,150 L728.1,144.1 C730,141.5 732.5,140.2 734.4,140.2 L828.1,196.4 L829.7,201.1 L835.2,208.1"/>
<path class="k" d="M670.3,183.9 L720.3,153.4 M675.8,185 L717.2,162.8"/>
<path class="k" d="M728.1,147.5 V144.5 M732.8,145.6 L826.6,200.3 M750,169 L806.2,201.9"/>
<path class="h" d="M732.8,147 V160" stroke-dasharray="4 3"/>
<path class="k" d="M832.8,208.9 L759.4,248.7 M826.6,205 L757.8,245.6 M831.2,211.2 L771.9,245.6 M695.7,250.6 L759.4,248.7"/>
<path class="h" d="M617.6,205.3 L638,216.5 M650,222.2 L665.6,230 M671.9,236.2 L695.7,250.6"/>
<path class="k" d="M775,254 L772.4,340.5"/>
<path class="h" d="M699.1,256.3 L674,307 M671,313 L648.6,353.4" />
<path class="k" d="M639.6,356 L750.5,353.4"/>
<path class="k" d="M753,345.2 V356 M753,345.2 L835.5,393.9 V385.7"/>
<!-- top opening frame -->
<path class="k" d="M667.2,199.5 C668,197 670,196.5 673,197.2 C677,198 680,197 682.8,195.6 L710.9,183.1 C713,181.5 714.5,179 715.6,176.9 C719,174.5 724,174 728.1,174.5 C732,175.5 735,178 737.5,180 C741,182 745,185.5 750,189.4 C753,191 756,192 759.4,192.5 L778.1,206.6 C782,209 786,210.5 790.6,211.2 C793,212 795,213.5 795.3,215.2 L793.7,219.8 L782.8,223.7 L768.7,230 L757.8,234.7 C752,235.5 748,234.5 743.7,233.9 C734,233 725,232.5 717.2,230.8 L701.6,222.2 L684.4,212.8 L667.2,201.9 Z"/>
<path class="h" d="M669.5,199.8 C672,199.3 678,199.5 683.5,197.5 L712,185 C714.5,183.5 716,181 717,179 C720,177 724,176.6 727.5,177 C731,178 734,180 736.5,182 L749,191.5 C752,193.5 755,194.3 758.5,194.8 L777,208.5 C781,211 785,212.5 789.5,213.3 C791.5,214 792.5,214.8 792.7,215.8"/>
<path class="k" d="M675.8,185.5 L701.6,175.3 M683.6,191.7 L712.5,181.6 M759.4,176.9 L797,197 M762,186 L782.8,203.4"/>
<path class="k" d="M721.9,168.3 L746.9,161.2 M748.4,166.7 L759.4,176.1 L752,179"/>
<path class="k" d="M664.5,189.8 L672.5,184 L683.5,188.5 L676,196 Z M700,175 L706.5,169.5 L717,173 L712,180.5 Z M749,183 L757,177.5 L768,182.5 L759.5,189 Z M779.5,202 L789,196 L800,201.5 L790,208 Z M787,223.5 L792,219.5 L796.5,222.5 L791.5,226.8 Z M754.5,237 L763,231.5 L771,236.5 L762.5,242.5 Z M695.5,231 L705,225.5 L714,230.5 L705,237 Z M663.5,211.8 L672,206.5 L682.5,211.5 L674,217.5 Z"/>
<g class="hw"><ellipse cx="674.2" cy="190.2" rx="2.2" ry="1.7"/><ellipse cx="709.1" cy="175.3" rx="2.2" ry="1.7"/><ellipse cx="757.8" cy="183.1" rx="2.2" ry="1.7"/><ellipse cx="789.5" cy="201.9" rx="2.2" ry="1.7"/><ellipse cx="791.9" cy="223.3" rx="1.3" ry="1"/><ellipse cx="762.2" cy="237" rx="2.2" ry="1.7"/><ellipse cx="704.7" cy="231.2" rx="2.2" ry="1.7"/><ellipse cx="673.1" cy="212" rx="2.2" ry="1.7"/></g>
<path class="k" d="M769.5,233 L790,223 M766,240.5 L786.5,228.5"/>
<ellipse class="w" cx="746.9" cy="159.7" rx="2.3" ry="4.6" transform="rotate(-15 746.9 159.7)"/>
<ellipse class="w" cx="809.7" cy="198.7" rx="2.4" ry="5.2" transform="rotate(-8 809.7 198.7)"/>
<path class="k" d="M809.7,203.6 L814,207.3"/>
<path class="h" d="M713.5,180 L709.5,224 M742,172 L741,230" stroke-dasharray="12 3 2 3"/>
<g class="hw"><ellipse cx="670" cy="361.7" rx="3" ry="2"/><ellipse cx="751.7" cy="359.5" rx="2.6" ry="2"/></g>
<path class="k" d="M766,153.2 L775,150.3"/>
<!-- leader 245 top -->
<path class="k" d="M693.5,134 L721.3,124.5 L721.9,168.3"/>
<text x="840.7" y="220.1" font-size="18.5" font-weight="normal" textLength="27.0" lengthAdjust="spacingAndGlyphs">251</text>
<!-- washer 245 top-left (tilted) -->
<g transform="translate(680.3,138.5) rotate(-12)">
<path class="w" d="M-3,-14.7 A10,14.7 0 0 0 -3,14.7 L1,14.7 A10,14.7 0 0 0 1,-14.7 Z"/>
<ellipse class="w" cx="1" cy="0" rx="10" ry="14.7"/>
<ellipse class="w" cx="-3" cy="0" rx="10" ry="14.7"/>
<ellipse class="k" cx="-3.5" cy="0" rx="3.6" ry="5.6"/>
<path class="h" d="M-1.5,-4.5 A3.6,5.6 0 0 1 -1.5,4.5"/>
</g>
<path class="k" d="M656.1,147.1 L675.3,140.3"/>
<text x="636.8" y="127.2" font-size="18.5" font-weight="normal" textLength="29.0" lengthAdjust="spacingAndGlyphs">245</text>
<text x="584.7" y="144.2" font-size="18.5" font-weight="normal" textLength="29.0" lengthAdjust="spacingAndGlyphs">246</text>
<!-- bolt 246 top-left (horizontal) -->
<g transform="translate(615.5,161.5) rotate(-107)">
<g>
<path class="w2" d="M-6.5,12.0 V25.7 L-5.1,30.1 Q-4.9,31.0 -3.3,31.0 H3.3 Q4.9,31.0 5.1,30.1 L6.5,25.7 V12.0"/>
<path class="k2" d="M-2.0,14.8 H6.5"/>
<path class="k2" d="M-2.0,19.3 H6.5"/>
<path class="k2" d="M-2.0,23.9 H6.5"/>
<path class="h" d="M-2.2,30.5 Q0,26.0 2.2,30.5"/>
<path class="w2" d="M-10.5,-1.5 C-10.5,-7.2 -6.3,-9.0 0,-9.0 C6.3,-9.0 10.5,-7.2 10.5,-1.5 L10.5,3.2 L5.2,8.3 Q0,9.8 -5.2,8.3 L-10.5,3.2 Z"/>
<path class="k" d="M-9.7,-1.8 L-5.2,2.2 H5.2 L9.7,-1.8"/>
<path class="k" d="M-5.2,2.2 V8.1 M5.2,2.2 V8.1"/>
</g>
</g>
<!-- bolt 246 right -->
<g transform="translate(836.9,305.8)">
<path class="w2" d="M-6.3,13.3 V30.6 L-4.9,36.1 Q-4.7,37.3 -3.1,37.3 H3.1 Q4.7,37.3 4.9,36.1 L6.3,30.6 V13.3"/>
<path class="k2" d="M-1.8,16.8 H6.3"/>
<path class="k2" d="M-1.8,22.5 H6.3"/>
<path class="k2" d="M-1.8,28.3 H6.3"/>
<path class="h" d="M-2.2,36.8 Q0,32.3 2.2,36.8"/>
<path class="w2" d="M-12.0,-1.5 C-12.0,-8.3 -7.2,-10.3 0,-10.3 C7.2,-10.3 12.0,-8.3 12.0,-1.5 L12.0,3.6 L6.0,9.5 Q0,11.1 -6.0,9.5 L-12.0,3.6 Z"/>
<path class="k" d="M-11.2,-1.8 L-6.0,2.2 H6.0 L11.2,-1.8"/>
<path class="k" d="M-6.0,2.2 V9.3 M6.0,2.2 V9.3"/>
</g>
<text x="848.4" y="332.0" font-size="18.5" font-weight="normal" textLength="29.0" lengthAdjust="spacingAndGlyphs">246</text>
<path class="k" d="M836.3,349.8 L836.5,365"/>
<path class="w" d="M822.2,367.7 V372.7 A14.3,8.2 0 0 0 850.8,372.7 V367.7"/>
<ellipse class="w" cx="836.5" cy="367.7" rx="14.3" ry="8.2"/>
<ellipse class="k" cx="836.5" cy="367.7" rx="6.3" ry="3.7"/>
<path class="h" d="M831.5,369.5 A6.3,3.7 0 0 0 841.5,369.5"/>
<path class="k" d="M836.5,385 L836,394.5"/>
<text x="854.9" y="376.6" font-size="18.5" font-weight="normal" textLength="29.0" lengthAdjust="spacingAndGlyphs">245</text>
<!-- bolt 255 -->
<g transform="translate(638.3,401.1)">
<path class="w2" d="M-5.8,12.5 V28.3 L-4.4,33.4 Q-4.2,34.5 -2.6,34.5 H2.6 Q4.2,34.5 4.4,33.4 L5.8,28.3 V12.5"/>
<path class="k2" d="M-1.3,15.6 H5.8"/>
<path class="k2" d="M-1.3,20.9 H5.8"/>
<path class="k2" d="M-1.3,26.2 H5.8"/>
<path class="h" d="M-2.2,34.0 Q0,29.5 2.2,34.0"/>
<path class="w2" d="M-11.0,-1.5 C-11.0,-7.6 -6.6,-9.5 0,-9.5 C6.6,-9.5 11.0,-7.6 11.0,-1.5 L11.0,3.3 L5.5,8.7 Q0,10.2 -5.5,8.7 L-11.0,3.3 Z"/>
<path class="k" d="M-10.2,-1.8 L-5.5,2.2 H5.5 L10.2,-1.8"/>
<path class="k" d="M-5.5,2.2 V8.5 M5.5,2.2 V8.5"/>
</g>
<text x="597.8" y="428.2" font-size="18.5" font-weight="normal" textLength="29.0" lengthAdjust="spacingAndGlyphs">255</text>
<!-- bolt 18 -->
<g transform="translate(848.8,442.9)">
<path class="w2" d="M-6.5,12.9 V30.2 L-5.1,35.7 Q-4.9,36.9 -3.3,36.9 H3.3 Q4.9,36.9 5.1,35.7 L6.5,30.2 V12.9"/>
<path class="k2" d="M-2.0,16.3 H6.5"/>
<path class="k2" d="M-2.0,22.1 H6.5"/>
<path class="k2" d="M-2.0,27.9 H6.5"/>
<path class="h" d="M-2.2,36.4 Q0,31.9 2.2,36.4"/>
<path class="w2" d="M-11.5,-1.5 C-11.5,-7.9 -6.9,-9.9 0,-9.9 C6.9,-9.9 11.5,-7.9 11.5,-1.5 L11.5,3.5 L5.8,9.1 Q0,10.7 -5.8,9.1 L-11.5,3.5 Z"/>
<path class="k" d="M-10.7,-1.8 L-5.8,2.2 H5.8 L10.7,-1.8"/>
<path class="k" d="M-5.8,2.2 V8.9 M5.8,2.2 V8.9"/>
</g>
<text x="865.8" y="451.4" font-size="18.5" font-weight="normal" textLength="19.0" lengthAdjust="spacingAndGlyphs">18</text>
</g>

<!-- 31_gasket.svg -->
<g id="gasket256">
<path class="w" d="M621.9,474 C621,462 628,452 643.7,446 L718,420.5 C745,413 782,420 782.7,446 C783,458 770,468 753.1,474.4 L694.1,496.2 C660,508 622,498 621.9,474 Z"/>
<path class="k" d="M623.5,478 C627,500 662,509 694.5,499.5 L754,477.5 C772,471 785,460 784.5,447"/>
<path class="k" d="M641.6,468 C641,462 642,459.5 646,457.5 L722,429.5 C745,422 770,428 770.6,443.7 C771,454 765,461.5 757,466 L694.1,484.2 C680,489 664,488 654.7,483.1 C647,480 642,474 641.6,468 Z"/>
<path class="h" d="M645.5,463 L724,433.5 C742,428 764,431 766.5,443"/>
<path class="k" d="M643.7,446 L645,456 M646,450.5 L706,428.5"/>
<g class="hw"><ellipse cx="635" cy="480.9" rx="2.3" ry="1.8"/><ellipse cx="643.7" cy="450.5" rx="1.8" ry="1.5"/><ellipse cx="678.1" cy="438.3" rx="2.3" ry="1.8"/><ellipse cx="711.1" cy="426.7" rx="2.3" ry="1.8"/><ellipse cx="772.8" cy="432.8" rx="2.3" ry="1.8"/><ellipse cx="767.4" cy="460.2" rx="2.3" ry="1.8"/><ellipse cx="734.5" cy="471.7" rx="2.3" ry="1.8"/><ellipse cx="693" cy="488.2" rx="2.3" ry="1.8"/></g>
<text x="787.7" y="453.6" font-size="18.5" font-weight="normal" textLength="29.0" lengthAdjust="spacingAndGlyphs">256</text>
</g>
<!-- lines down from cover -->
<path class="k" d="M693.7,379.2 L684.2,483.1 M682,505 L678.7,537.8"/>
<path class="k" d="M738.9,372.8 L736.7,454.7 M733.9,452.5 V470 M733.5,452.5 L845,519.2 L847.9,487.5 M734.8,486.5 L735,489.5 M735.6,491.9 L735,523.6"/>
<path class="k" d="M751.7,378 V384.4"/>

<g id="boot254">
<path class="w" d="M619.7,586 C619,576 625,567 640.5,563 L663.4,542.2 C670,536 690,536 694.1,544.4 L700.6,557.5 L707.2,559.7 L711.6,535.6 C713,527 720,523 734,522 C748,522 756,526 760.8,533.4 L764.1,531.2 C778,537 786,548 784.9,559.7 C784,568 778,575 770,579 L687.5,612.2 C675,616 662,615 654.7,612.2 C635,606 621,598 619.7,586 Z"/>
<path class="k" d="M620,590.5 C622,602 636,611 655,616.5 C663,619 676,619.5 688,616 L771,583 C780,578.5 785.5,571 785.5,563"/>
<path class="k" d="M640.5,568.4 C648,556 656,548 663.4,542.2 M694.1,544.4 C698,552 703,566 706.1,581.6 M707.2,559.7 C708,548 709,541 711.6,535.6 M760.8,533.4 C765,540 769,547 772.8,553.1"/>
<path class="k" d="M640.5,575 C646,588 656,594 665.6,594.7 C680,595 692,591 698.4,586 M709.4,561.9 C714,570 724,575 735.6,575 C750,574.5 762,568 768.4,559.7"/>
<path d="M727.3,532.2h.01M708.3,557.4h.01M689.9,597.1h.01M715.1,560.1h.01M761.6,550.9h.01M670.7,596.2h.01M649.6,576.0h.01M725.3,558.0h.01M732.2,562.8h.01M671.6,576.4h.01M694.6,551.8h.01M751.0,586.1h.01M660.0,575.4h.01M706.5,601.3h.01M740.3,550.8h.01M688.8,591.1h.01M644.8,568.1h.01M626.2,583.5h.01M746.1,575.3h.01M764.4,553.0h.01M734.6,577.1h.01M715.6,565.2h.01M698.1,583.1h.01M629.7,586.3h.01M755.6,550.5h.01M683.5,583.5h.01M629.4,592.1h.01M684.3,600.9h.01M710.5,602.0h.01M665.7,561.7h.01M679.0,602.0h.01M658.3,567.7h.01M717.1,548.6h.01M680.7,574.7h.01M704.9,579.1h.01M731.5,530.6h.01M684.6,560.3h.01M636.8,580.5h.01M721.2,538.8h.01M661.4,555.9h.01M696.7,567.6h.01M676.3,548.8h.01M756.7,539.9h.01M707.0,538.6h.01M662.9,557.5h.01M647.3,592.4h.01M707.7,593.0h.01M674.2,545.2h.01M657.2,570.5h.01M662.5,585.6h.01M777.8,564.5h.01M777.6,557.4h.01M758.6,567.2h.01M727.6,594.8h.01M633.7,582.8h.01M743.7,567.1h.01M649.2,593.9h.01M674.7,594.9h.01M780.3,560.0h.01M686.0,607.4h.01M739.5,540.6h.01M643.9,597.1h.01M677.6,573.2h.01M691.4,601.0h.01M756.3,544.1h.01M661.3,551.2h.01M659.5,576.4h.01M662.6,562.0h.01M641.4,604.3h.01M678.2,565.4h.01M689.2,604.9h.01M702.6,571.7h.01M648.2,566.7h.01M739.6,573.9h.01M673.6,570.6h.01M711.5,593.4h.01M637.2,574.2h.01M660.8,549.8h.01M747.4,569.7h.01M712.6,591.4h.01M770.5,564.1h.01M721.0,569.5h.01M704.4,585.6h.01M694.5,571.9h.01M698.7,607.0h.01M758.6,537.8h.01M639.8,564.0h.01M631.8,583.6h.01M645.2,587.6h.01M728.8,538.3h.01M656.0,607.9h.01M685.5,567.9h.01M646.4,563.1h.01M704.9,555.2h.01M652.1,553.4h.01M739.1,527.7h.01M711.3,563.9h.01M722.8,570.1h.01M626.2,593.0h.01M689.5,604.4h.01M755.1,548.2h.01M644.4,605.0h.01M714.0,586.2h.01M733.5,562.6h.01M724.6,594.9h.01M633.5,599.6h.01M630.7,600.2h.01M694.7,555.2h.01M706.8,546.5h.01M671.3,552.2h.01M745.2,550.9h.01M702.4,541.3h.01M740.9,573.4h.01M651.0,566.8h.01M755.1,563.2h.01M701.5,597.8h.01M684.7,569.6h.01M676.3,597.6h.01M736.5,580.7h.01M686.6,555.9h.01M631.4,589.7h.01M633.7,598.3h.01M666.3,546.8h.01M668.1,565.5h.01M645.7,564.3h.01M663.2,608.7h.01M660.1,609.0h.01M670.9,556.7h.01M698.2,569.2h.01M652.9,569.4h.01M670.0,546.0h.01M716.5,571.5h.01M743.8,582.5h.01M684.1,554.0h.01M739.4,581.3h.01M626.9,597.8h.01M767.1,580.0h.01M642.7,571.0h.01M703.1,597.8h.01M732.6,585.6h.01M637.0,597.9h.01M712.0,580.0h.01M723.2,584.5h.01M702.8,572.0h.01M728.7,531.7h.01M741.5,547.7h.01M740.3,543.6h.01M701.3,558.9h.01M698.9,584.8h.01M746.5,579.1h.01M725.9,532.7h.01M742.6,552.2h.01M730.8,585.5h.01M731.4,551.0h.01M705.1,566.0h.01M767.4,543.1h.01M694.0,549.1h.01M654.4,607.3h.01M654.5,576.0h.01M643.1,571.1h.01M755.3,569.8h.01M657.9,603.2h.01M694.2,552.0h.01M671.9,598.3h.01M758.4,536.3h.01M768.7,550.9h.01M681.2,559.8h.01M679.3,562.8h.01M636.5,597.8h.01M666.9,606.5h.01M660.9,548.9h.01M704.2,542.3h.01M681.4,608.2h.01M738.6,530.3h.01M740.8,564.8h.01M744.1,581.4h.01M697.8,555.6h.01M668.9,589.6h.01M728.1,551.9h.01M711.8,559.9h.01M654.1,603.9h.01M701.9,544.9h.01M659.2,548.2h.01M743.6,561.5h.01M688.1,571.1h.01M682.0,555.1h.01M702.9,580.1h.01M762.3,544.6h.01M664.5,547.4h.01M685.8,564.3h.01M625.0,587.0h.01M767.8,566.7h.01M684.4,605.7h.01M706.0,584.7h.01M726.7,591.8h.01M695.3,573.4h.01M626.2,593.3h.01M658.1,605.1h.01M726.4,552.1h.01M724.9,586.1h.01M706.4,576.1h.01M683.8,545.2h.01M669.5,565.6h.01M765.8,566.9h.01M658.5,547.2h.01M702.1,584.0h.01M689.1,548.1h.01M675.6,562.2h.01M732.5,543.0h.01M703.2,543.6h.01M755.2,545.8h.01M656.3,591.4h.01M668.5,607.9h.01M701.6,542.1h.01M656.6,561.9h.01M643.9,559.8h.01M654.9,609.8h.01M773.7,554.3h.01M650.4,606.5h.01M743.1,528.7h.01M729.5,558.6h.01M681.5,554.5h.01M666.0,556.2h.01M678.7,596.7h.01M755.6,563.2h.01M681.3,605.1h.01M651.6,557.3h.01M687.6,595.8h.01M746.4,529.5h.01M771.8,548.1h.01M675.7,549.4h.01M663.0,587.6h.01M672.0,549.7h.01M658.4,566.9h.01M683.6,547.6h.01M690.8,568.4h.01M720.1,554.2h.01M672.5,557.1h.01M749.0,532.8h.01M652.3,590.7h.01M673.5,610.3h.01M635.6,568.9h.01M737.0,564.4h.01M658.4,561.8h.01M722.2,584.0h.01M729.5,536.4h.01M758.7,551.3h.01M713.4,558.1h.01M741.7,543.1h.01M660.6,547.1h.01M645.0,602.0h.01M715.3,554.1h.01M685.2,611.4h.01M703.6,545.9h.01M753.3,582.2h.01M698.2,596.4h.01M773.5,558.0h.01M762.9,564.6h.01M662.7,592.9h.01M718.2,579.3h.01M655.7,557.7h.01M661.8,577.6h.01M727.4,543.5h.01M731.8,541.9h.01M671.3,543.5h.01M751.2,573.1h.01M685.0,573.3h.01M725.4,533.8h.01M646.8,585.8h.01M687.4,550.4h.01M670.5,608.0h.01M671.3,574.7h.01M678.7,561.8h.01M740.0,543.5h.01M689.7,596.6h.01M686.8,601.9h.01M634.4,579.5h.01M681.0,569.4h.01M637.7,568.2h.01M772.8,559.4h.01M769.2,579.3h.01M756.0,539.8h.01M749.6,545.1h.01M686.6,598.8h.01M756.8,541.7h.01M655.8,560.4h.01M705.3,559.0h.01M744.9,529.3h.01M758.3,536.1h.01M718.8,573.3h.01M723.4,552.3h.01M689.1,576.1h.01M690.1,582.7h.01M693.6,563.7h.01M700.6,546.2h.01M640.9,563.0h.01M634.9,564.0h.01M724.9,533.1h.01M703.0,558.5h.01M651.7,610.4h.01M744.7,539.7h.01M767.9,549.6h.01M754.5,538.3h.01M702.7,605.1h.01M654.1,548.6h.01M703.3,553.4h.01M646.4,606.5h.01M647.6,593.5h.01M638.7,571.6h.01M724.9,556.9h.01M764.0,573.7h.01M723.8,559.9h.01M751.6,548.8h.01M679.2,591.8h.01M742.6,530.2h.01M755.2,547.8h.01M716.5,583.1h.01M721.5,563.2h.01M704.4,603.0h.01M727.7,527.9h.01M656.8,576.2h.01M717.1,543.6h.01M722.8,566.8h.01M635.5,580.9h.01M686.1,548.7h.01M712.7,556.1h.01M726.4,564.2h.01M660.8,603.7h.01M686.8,546.4h.01M629.4,593.0h.01M652.7,578.3h.01M703.5,581.2h.01M754.2,541.0h.01M670.8,551.8h.01M749.1,587.5h.01M742.9,566.0h.01M742.3,564.9h.01M675.2,590.5h.01M737.3,548.9h.01M711.2,563.5h.01M750.0,571.0h.01M663.6,581.2h.01M662.7,546.3h.01M743.0,554.1h.01M765.2,554.3h.01M659.2,604.1h.01M724.0,585.6h.01M697.3,598.2h.01M692.0,588.3h.01M714.0,552.5h.01M654.7,579.5h.01M734.2,580.5h.01M734.9,589.4h.01M630.6,576.8h.01M679.8,596.3h.01M630.6,600.6h.01M724.5,597.0h.01M724.1,550.7h.01M744.9,543.6h.01M672.5,562.4h.01M666.4,587.6h.01M680.5,553.6h.01M760.4,579.2h.01M691.8,592.5h.01M677.0,586.6h.01M708.6,544.6h.01M755.2,540.7h.01M700.9,594.5h.01M650.2,568.5h.01M677.1,597.5h.01M662.8,607.2h.01M666.6,544.5h.01M735.3,568.9h.01M637.9,580.7h.01M633.1,593.8h.01M723.5,556.6h.01M686.0,559.9h.01M653.8,548.6h.01M768.7,569.1h.01M682.4,602.0h.01" fill="none" stroke="#222" stroke-width="1.00" stroke-linecap="round"/>
<ellipse class="k" cx="678.7" cy="553.1" rx="17.5" ry="8"/>
<path class="w" d="M669.7,540 V551.5 C672,556 685,556 687.7,551.5 V540"/>
<ellipse class="w" cx="678.7" cy="540" rx="9" ry="4.6"/>
<ellipse class="h" cx="678.7" cy="540.3" rx="5" ry="2.5"/>
<ellipse class="k" cx="734.5" cy="537.8" rx="17.5" ry="8"/>
<path class="w" d="M725.5,524.7 V536.7 C728,541 741,541 743.5,536.7 V524.7"/>
<ellipse class="w" cx="734.5" cy="524.7" rx="9" ry="4.6"/>
<ellipse class="h" cx="734.5" cy="525" rx="5" ry="2.5"/>
<path class="k" d="M694.1,537.8 L707.2,534.5"/>
<g class="hw"><ellipse cx="633.9" cy="590.3" rx="2" ry="1.6"/><ellipse cx="691.9" cy="598" rx="2.5" ry="2"/><ellipse cx="731.9" cy="582.7" rx="2.5" ry="2"/><ellipse cx="765.6" cy="570.6" rx="2.5" ry="2"/><ellipse cx="771.7" cy="542.2" rx="2.2" ry="1.8"/></g>
<text x="788.6" y="561.9" font-size="18.5" font-weight="normal" textLength="29.0" lengthAdjust="spacingAndGlyphs">254</text>
<path class="k" d="M733.9,600.2 V615.5 M670.7,622 L670,634.1"/>
<path class="k" d="M637.2,442.7 L636.1,480.9 M635,500.6 L633.9,590.3 M633.9,611.1 V622"/>
<circle cx="733.5" cy="631.5" r="16.4" fill="#0a0a0a"/><text x="724.0" y="643.0" font-size="32.5" font-weight="bold" textLength="19.0" lengthAdjust="spacingAndGlyphs" style="fill:#fff;stroke:#fff;stroke-width:0.7">D</text>
<clipPath id="dclip"><circle cx="733.5" cy="631.5" r="16.4"/></clipPath>
<path clip-path="url(#dclip)" fill="#fff" fill-opacity="0.32" fill-rule="evenodd" d="M679.8,611.3 H724 C745,611.3 753.4,625 753.4,642.7 C753.4,660 745,674.2 724,674.2 H705.2 V706.9 H679.8 Z M705.2,631.3 V655.3 H717 C726,655.3 728.4,650 728.4,643.3 C728.4,636.5 726,631.3 717,631.3 Z"/>
<circle cx="670.0" cy="649.4" r="16.6" fill="#0a0a0a"/><text x="660.2" y="660.9" font-size="32.5" font-weight="bold" textLength="19.5" lengthAdjust="spacingAndGlyphs" style="fill:#fff;stroke:#fff;stroke-width:0.7">C</text>
</g>

<!-- 40_mid.svg -->
<g id="midparts">
<circle cx="677.0" cy="720.3" r="16.6" fill="#0a0a0a"/><text x="667.5" y="731.8" font-size="32.5" font-weight="bold" textLength="19.0" lengthAdjust="spacingAndGlyphs" style="fill:#fff;stroke:#fff;stroke-width:0.7">D</text>
<circle cx="610.0" cy="758.0" r="15.9" fill="#0a0a0a"/><text x="600.2" y="769.5" font-size="32.5" font-weight="bold" textLength="19.5" lengthAdjust="spacingAndGlyphs" style="fill:#fff;stroke:#fff;stroke-width:0.7">C</text>
<path class="k" d="M677.3,736.9 L676.6,774 M609.6,774 L608,870.7"/>
<!-- part 54 upper block -->
<path class="w" d="M664.3,805.2 V776.9 C664.5,772 666,770.5 669.1,770.1 L684.8,768.1 C689,768.5 691,772 691.6,777.9 V805.2 L677.9,809.1 Z"/>
<path class="k" d="M664.5,777 C668,781.5 673,782 677.9,781.8 V809.1 M677.9,781.8 C684,781 689,780 691.5,777"/>
<ellipse class="k" cx="676" cy="774" rx="4.5" ry="2.6"/>
<path class="k" d="M680.9,781.8 L686.7,780.2"/>
<circle class="k" cx="673" cy="787" r="2.2"/><path class="k" d="M671.5,802.5 A2.2,2.2 0 0 1 674.5,805.5"/>
<!-- rings -->
<path class="w" d="M664.8,809 C664,813 688,813 687.7,808 V824 C684,830 668,830 664.8,824 Z"/>
<path class="k" d="M664.8,812 C668,817.5 684,817.5 687.7,811.5 M664.8,817 C668,822.5 684,822.5 687.7,816.5 M664.8,821.5 C668,827 684,827 687.7,821"/>
<!-- lower block -->
<path class="w" d="M663.3,822.8 L677,829.6 L689.6,822.8 V866.7 L675,871.6 L663.3,865.8 Z"/>
<path class="k" d="M677,829.6 V871"/>
<rect class="k" x="681" y="838.4" width="4" height="23.5" rx="2"/>
<path class="h" d="M687,828 V864"/>
<circle class="k" cx="669.5" cy="846.8" r="2.6"/>
<!-- taper -->
<path class="w" d="M666.6,869.5 L670.4,898.8 L668.4,901.7 L673.3,908.6 L679.1,907.6 L681.5,901.7 L680.1,898.8 L684,869.8 L675,872.5 Z"/>
<path class="k" d="M670.4,898.8 C673,900.5 677,900.5 680.1,898.8"/>
<path class="k" d="M675.2,916.4 V967.2 M675.2,986.7 V1021.9 M674.3,1049.2 V1058"/>
<!-- pin 13 -->
<g transform="translate(742.8,760.3) rotate(-22.2)">
<path class="w" d="M-25.5,-4.6 L-11,-6.8 H20 A5,6.8 0 0 1 20,6.8 H-11 L-25.5,4.6 A3,4.6 0 0 1 -25.5,-4.6 Z"/>
<path class="k" d="M-22,-4.8 A3,5 0 0 1 -22,4.8 M-18.5,-5.4 A3,5.4 0 0 1 -18.5,5.4 M-15,-6 A3,6 0 0 1 -15,6 M-11.5,-6.6 A3,6.6 0 0 1 -11.5,6.6"/>
</g>
<path class="k" d="M696.5,778.9 L718,770.1"/>
<text x="747.3" y="742.3" font-size="18.5" font-weight="normal" textLength="17.0" lengthAdjust="spacingAndGlyphs">13</text>
<!-- washer 14 upper -->
<g transform="translate(636.5,800.4) rotate(-15.0)">
<path class="w" d="M5.0,-12.7 A7.0,12.7 0 0 1 5.0,12.7 L0.0,12.7 A7.0,12.7 0 0 0 0.0,-12.7 Z"/>
<ellipse class="w" cx="5.0" cy="0" rx="7.0" ry="12.7"/>
<path class="w" d="M5.0,-12.7 H0 V12.7 H5.0" style="stroke:none"/>
<path class="k" d="M5.0,-12.7 H0 M5.0,12.7 H0"/>
<ellipse class="w" cx="0" cy="0" rx="7.0" ry="12.7"/>
<ellipse class="k" cx="-0.5" cy="0" rx="2.6" ry="3.6"/>
<path class="h" d="M1.2,-2.6 A2.6,3.6 0 0 1 1.2,2.6"/>
</g>
<text x="635.4" y="784.7" font-size="18.5" font-weight="normal" textLength="17.0" lengthAdjust="spacingAndGlyphs">14</text>
<path class="k" d="M652.5,795.5 L672.1,787.7 M615.4,809.1 L632,803.3 M598.8,815 L603.7,813"/>
<!-- nut 15 -->
<g transform="translate(583.0,821.0) rotate(-18.0)">
<path class="w2" d="M0.0,13.0 L7.0,13.0 L15.1,6.5 L15.1,-6.5 L7.0,-13.0 L0.0,-13.0 Z"/>
<path class="k" d="M8.1,6.5 L15.1,6.5 M8.1,-6.5 L15.1,-6.5"/>
<path class="w2" d="M0.0,13.0 L8.1,6.5 L8.1,-6.5 L0.0,-13.0 L-8.1,-6.5 L-8.1,6.5 Z"/>
<ellipse class="k" cx="0" cy="0" rx="7.3" ry="10.1"/>
<ellipse class="k" cx="0" cy="0" rx="2.4" ry="3.9"/>
</g>
<path class="k" d="M569.5,826.7 L579.3,822.8"/>
<text x="567.2" y="804.3" font-size="18.5" font-weight="normal" textLength="17.0" lengthAdjust="spacingAndGlyphs">15</text>
<!-- nut 101 -->
<g transform="translate(637.0,859.5) rotate(-18.0)">
<path class="w2" d="M0.0,13.5 L8.0,13.5 L16.4,6.7 L16.4,-6.7 L8.0,-13.5 L0.0,-13.5 Z"/>
<path class="k" d="M8.4,6.7 L16.4,6.7 M8.4,-6.7 L16.4,-6.7"/>
<path class="w2" d="M0.0,13.5 L8.4,6.7 L8.4,-6.7 L0.0,-13.5 L-8.4,-6.7 L-8.4,6.7 Z"/>
<ellipse class="k" cx="0" cy="0" rx="7.6" ry="10.5"/>
<ellipse class="k" cx="0" cy="0" rx="2.4" ry="3.9"/>
</g>
<path class="k" d="M658.4,852.1 L669.1,848.2 M624.2,864.8 L632,861.9"/>
<text x="625.2" y="841.4" font-size="18.5" font-weight="normal" textLength="25.0" lengthAdjust="spacingAndGlyphs">101</text>
<!-- washer 102 -->
<g transform="translate(706.0,832.6) rotate(-15.0)">
<path class="w" d="M5.5,-14.6 A8.0,14.6 0 0 1 5.5,14.6 L0.0,14.6 A8.0,14.6 0 0 0 0.0,-14.6 Z"/>
<ellipse class="w" cx="5.5" cy="0" rx="8.0" ry="14.6"/>
<path class="w" d="M5.5,-14.6 H0 V14.6 H5.5" style="stroke:none"/>
<path class="k" d="M5.5,-14.6 H0 M5.5,14.6 H0"/>
<ellipse class="w" cx="0" cy="0" rx="8.0" ry="14.6"/>
<ellipse class="k" cx="-0.5" cy="0" rx="3.0" ry="4.2"/>
<path class="h" d="M1.2,-3.0 A3.0,4.2 0 0 1 1.2,3.0"/>
</g>
<path class="k" d="M694.5,838.4 L704.3,834.5"/>
<text x="710.2" y="863.4" font-size="18.5" font-weight="normal" textLength="27.0" lengthAdjust="spacingAndGlyphs">102</text>
<!-- bolt 103 -->
<g transform="translate(765.9,814.4) rotate(-20.2)">
<path class="w" d="M-6.5,-6.0 H-42.5 A2.5,6.0 0 0 0 -42.5,6.0 H-6.5 Z"/>
<path class="k" d="M-40.2,-6.0 A2.5,6.0 0 0 1 -40.2,6.0"/>
<path class="k" d="M-37.0,-6.0 A2.5,6.0 0 0 1 -37.0,6.0"/>
<path class="k" d="M-33.7,-6.0 A2.5,6.0 0 0 1 -33.7,6.0"/>
<path class="k" d="M-30.5,-6.0 A2.5,6.0 0 0 1 -30.5,6.0"/>
<path class="k2" d="M-28.0,-6.0 A2.5,6.0 0 0 1 -28.0,6.0"/>
<path class="w2" d="M-6.5,-13.0 L3.2,-13.5 L6.5,-7.0 L6.5,7.0 L3.2,13.5 L-6.5,13.0 A4,13.5 0 0 1 -6.5,-13.0 Z"/>
<path class="k" d="M-3.3,-5.7 L6.5,-6.8 M-3.3,6.1 L6.5,6.8"/>
<path class="k" d="M-6.0,-12.2 A4,13.5 0 0 1 -6.0,12.2"/>
</g>
<path class="k" d="M720.5,829.5 L724.5,828"/>
<text x="749.2" y="796.4" font-size="18.5" font-weight="normal" textLength="26.0" lengthAdjust="spacingAndGlyphs">103</text>
<text x="695.5" y="802.9" font-size="18.5" font-weight="normal" textLength="19.0" lengthAdjust="spacingAndGlyphs">54</text>
<!-- part 257 -->
<path class="w" d="M595.2,906.6 V875.4 C595.5,870.5 598,869 601,868.6 L616.6,867.6 C621,868 624,871 624.5,877.3 V904.7 L611.2,910.5 Z"/>
<path class="k" d="M595.4,876 C599,880.5 606,881.5 611.2,881.2 V910.5 M611.2,881.2 C617,880.5 622,879 624.4,876.5"/>
<ellipse class="k" cx="608.8" cy="872" rx="4.2" ry="2.5"/>
<path class="k" d="M613.7,881.2 L618.6,880.3"/>
<path class="k" d="M604.5,884.5 A2.3,2.3 0 0 1 607.5,888.3 M604.5,902.7 A2.3,2.3 0 0 1 607.5,906.5"/>
<path class="w" d="M598.1,908.5 C600,913 616,914 619.6,908 L617.5,918 L616.6,930 L616,937 H601.5 L601,930 L600,918 Z"/>
<path class="k" d="M598.5,912.5 C602,917.5 615,917.5 619.2,912 M599.5,917.5 C603,922 614,922 618,917 M600.5,923.5 C604,927.5 613,927.5 617,923 M601,929.5 C604,933.5 613,933.5 616.6,929"/>
<ellipse class="w" cx="608.8" cy="944.7" rx="19" ry="16.6"/>
<path class="w" d="M600.5,932 C604,937 613,937 617,932" />
<path class="k" d="M596.5,932.5 C591.5,940 592,952 597.5,958 M599.5,936 C595.5,942 596,951 600.5,956.5 M602,935 C608,941 616,939 619,934.5"/>
<path class="w" d="M601,962 L603.9,1002.3 C606,1004 611,1004 613.7,1002.3 L617.6,961.5 C612,963.5 606,963.5 601,962 Z"/>
<path class="k" d="M602,968 C606,970 613,970 617,967.5"/>
<path class="k" d="M603.9,1004.5 C607,1006 611,1006 613.7,1004.5 M604,1007 C607,1008.5 611,1008.5 613.6,1007"/>
<path class="w" d="M603.9,1025 L604.9,1064.8 L611.2,1064.8 L613.1,1025 Z"/>
<circle class="w" cx="608" cy="1017" r="9.6"/>
<circle class="w" cx="607.8" cy="1070.5" r="6.2"/>
<path class="k" d="M606.3,1081.4 V1103"/>
<text x="627.4" y="924.2" font-size="18.5" font-weight="normal" textLength="29.0" lengthAdjust="spacingAndGlyphs">257</text>
<!-- bolt 51 -->
<g transform="translate(708.4,912.5)">
<path class="w2" d="M-5.2,12.5 V19.7 L-3.9,22.0 Q-3.6,22.5 -2.0,22.5 H2.0 Q3.6,22.5 3.9,22.0 L5.2,19.7 V12.5"/>
<path class="k2" d="M-0.8,14.6 H5.2"/>
<path class="k2" d="M-0.8,18.2 H5.2"/>
<path class="h" d="M-2.2,22.0 Q0,17.5 2.2,22.0"/>
<path class="w2" d="M-11.0,-1.5 C-11.0,-7.6 -6.6,-9.5 0,-9.5 C6.6,-9.5 11.0,-7.6 11.0,-1.5 L11.0,3.3 L5.5,8.7 Q0,10.2 -5.5,8.7 L-11.0,3.3 Z"/>
<path class="k" d="M-10.2,-1.8 L-5.5,2.2 H5.5 L10.2,-1.8"/>
<path class="k" d="M-5.5,2.2 V8.5 M5.5,2.2 V8.5"/>
</g>
<text x="722.1" y="925.2" font-size="18.5" font-weight="normal" textLength="17.0" lengthAdjust="spacingAndGlyphs">51</text>
<path class="k" d="M707.9,938.9 V947.7 M707.9,967.2 V982.8 M707.9,998.4 V1021.9 M707.9,1042.4 V1048.2"/>
<!-- lock washer 52 -->
<path class="w" d="M695.8,954.5 V959 A10.7,7 0 0 0 717.2,959 V954.5"/>
<ellipse class="w" cx="706.5" cy="953.5" rx="10.7" ry="6.8"/>
<ellipse class="k" cx="706.5" cy="953" rx="4.6" ry="2.8"/>
<path class="w" d="M707,956 L710,966 L714,957" style="stroke:none"/>
<path class="k" d="M707.5,949 V966.5 M711,955.5 C714,957 715,962 712.5,965 M716,950.5 C718.5,953 718.5,959 716.5,962"/>
<text x="723.1" y="962.3" font-size="18.5" font-weight="normal" textLength="19.0" lengthAdjust="spacingAndGlyphs">52</text>
<!-- washer 14 lower -->
<path class="w" d="M694.8,986.0 V990.0 A12.7,6.3 0 0 0 720.2,990.0 V986.0"/>
<ellipse class="w" cx="707.5" cy="986.0" rx="12.7" ry="6.3"/>
<ellipse class="k" cx="707.5" cy="986.0" rx="5.0" ry="2.6"/>
<path class="h" d="M703.5,987.8 A5.0,2.6 0 0 0 711.5,987.8"/>
<text x="724.1" y="996.5" font-size="18.5" font-weight="normal" textLength="17.0" lengthAdjust="spacingAndGlyphs">14</text>
<!-- clamp 6 upper -->
<path class="k" d="M661.5,969.5 A13.7,8.5 0 0 1 685.5,963.9"/>
<path class="h" d="M663.4,968.0 A13.7,8.5 0 0 1 687.0,968.0"/>
<path class="w" d="M661.5,969.5 V975.5 A13.7,8.5 0 0 0 688.9,975.5 V969.5 A13.7,8.5 0 0 1 661.5,969.5 Z"/>
<path class="h" d="M662.3,974.5v3.6M664.7,977.1v3.6M668.4,979.0v3.6M672.8,980.0v3.6M677.6,980.0v3.6M682.1,979.0v3.6M685.7,977.1v3.6M688.1,974.5v3.6"/>
<path class="w" d="M655.5,962.5 L661,957 C664,955.5 667,957.5 666.5,960 L661.5,966.5 C659,968 656,966 655.5,962.5 Z"/>
<path class="k" d="M658.5,960 L662.5,964 M656,966.5 L655.5,972.5 L658.5,973 L662,970.5 M655.5,978 V974.5 L661.5,975.5"/>
<text x="642.0" y="981.8" font-size="18.5" font-weight="normal" textLength="10.0" lengthAdjust="spacingAndGlyphs">6</text>
<!-- plate 50 -->
<path class="w" d="M636.2,1012.1 C637,1008 640,1006.5 644,1005 L668,997.5 C676,996 688,999.5 696.7,1006.2 C702,1011 709,1017 714.3,1021.9 V1029.7 L685,1042 C682,1043 679,1043 676,1042 C662,1036 646,1027 638.1,1019.9 Z"/>
<path class="k" d="M636.5,1015 C645,1024 662,1033 676,1038.5 C679,1039.5 682,1039.5 685,1038.5 L714,1025.5"/>
<path class="k" d="M653.7,1016 C654,1011 660,1007.5 668,1005.5 C678,1003 690,1006 695,1012 C697,1016 694,1020 690,1022.5 L680,1029 C675,1030.5 668,1029 662,1025.5 C657,1022.5 653.5,1019.5 653.7,1016 Z"/>
<path class="k" d="M656.5,1019.5 C657,1015 663,1011 671,1009.5 C680,1008 688,1010 692,1014"/>
<g class="hw"><ellipse cx="644" cy="1010.7" rx="2.2" ry="1.8"/><ellipse cx="671.3" cy="1000.3" rx="2.2" ry="1.8"/><ellipse cx="707.9" cy="1023.4" rx="2.2" ry="1.8"/><ellipse cx="679.5" cy="1033.2" rx="2.2" ry="1.8"/></g>
<text x="720.2" y="1033.6" font-size="18.5" font-weight="normal" textLength="19.0" lengthAdjust="spacingAndGlyphs">50</text>
<!-- boot 53 -->
<path class="w" d="M640,1077.5 C641,1073 647,1069 652.5,1067.5 L672,1062 C680,1061 688,1064 694,1069 L708.5,1082 C711,1085 711,1089 708,1091.5 L682,1105.5 C678,1107.5 673,1107.5 669,1105.5 L643,1087 C640,1084.5 639.5,1080.5 640,1077.5 Z"/>
<path class="k" d="M640.5,1083 C641,1087 643,1089.5 646,1091.5 L669,1108.5 C673,1110.5 678,1110.5 682,1108.5 L708,1094.5 C710.5,1093 711.5,1090.5 711,1088"/>
<path class="k" d="M645.5,1078.5 C646.5,1075 651,1072.5 655.5,1071 L672.5,1066.5 C679,1066 686,1068.5 690.5,1072.5 L703,1083 C704.5,1085 704.5,1087.5 702,1089 L680.5,1100.5 C677,1102 673.5,1102 670,1100.5 L648,1085 C646,1083.5 645,1081 645.5,1078.5 Z"/>
<path class="k" d="M652,1079 C653,1076.5 657,1075 660.5,1074 L673,1071 C678,1071 683,1073 686.5,1076 L695,1083.5 C696,1085 696,1086.5 694,1087.5 L679,1095.5 C676,1096.5 673.5,1096.5 671,1095.5 L654,1084 C652.5,1082.5 651.5,1080.5 652,1079 Z"/>
<path d="M671.5,1085.5h.01M698.6,1082.3h.01M674.7,1086.5h.01M656.1,1083.9h.01M681.7,1093.5h.01M650.9,1076.8h.01M683.1,1087.4h.01M675.9,1068.5h.01M656.4,1074.7h.01M647.2,1082.3h.01M670.8,1095.1h.01M675.3,1088.3h.01M674.2,1089.0h.01M671.8,1076.0h.01M693.8,1090.6h.01M663.6,1074.3h.01M689.6,1080.1h.01M694.2,1079.6h.01M697.8,1082.5h.01M690.3,1075.7h.01M650.5,1077.8h.01M652.3,1074.9h.01M677.7,1081.7h.01M653.0,1088.4h.01M652.2,1080.8h.01M657.7,1075.7h.01M657.6,1079.9h.01M694.6,1088.3h.01M657.8,1075.3h.01M689.9,1077.7h.01M650.7,1086.3h.01M659.5,1086.9h.01M666.9,1081.9h.01M700.7,1082.9h.01M678.5,1096.0h.01M656.0,1071.7h.01M659.8,1073.0h.01M696.2,1087.0h.01M669.7,1070.0h.01M659.2,1090.5h.01M679.8,1076.5h.01M677.7,1095.5h.01M680.8,1076.0h.01M671.1,1068.6h.01M655.6,1079.0h.01M678.4,1071.0h.01M666.3,1096.8h.01M701.9,1088.8h.01M685.2,1086.4h.01M673.2,1091.3h.01M649.8,1085.1h.01M687.9,1090.4h.01M665.7,1089.8h.01M669.5,1093.4h.01M695.1,1086.0h.01M681.4,1079.5h.01M679.0,1087.2h.01M687.4,1079.7h.01M687.8,1086.3h.01M670.8,1095.0h.01M673.2,1074.3h.01M685.7,1083.4h.01M680.8,1097.8h.01M662.8,1089.6h.01M657.1,1072.3h.01M697.6,1088.9h.01M670.9,1096.8h.01M664.3,1089.1h.01M656.9,1081.2h.01M696.1,1079.6h.01M679.0,1077.3h.01M653.3,1083.4h.01M661.4,1072.3h.01M671.4,1075.9h.01M657.8,1080.6h.01M681.5,1083.3h.01M663.6,1095.0h.01M686.2,1085.9h.01M663.3,1093.4h.01M671.7,1067.3h.01M681.7,1081.7h.01M681.7,1088.8h.01M684.9,1073.3h.01M672.8,1072.6h.01M686.6,1072.6h.01M661.2,1078.3h.01M685.6,1084.2h.01M680.8,1092.2h.01M668.1,1093.4h.01M653.0,1081.9h.01M681.5,1097.4h.01M667.2,1085.8h.01M699.8,1082.3h.01M683.0,1073.5h.01M687.0,1094.3h.01M682.4,1090.9h.01M676.4,1093.4h.01M694.7,1078.3h.01M650.3,1081.5h.01M677.1,1092.6h.01M673.5,1067.5h.01M664.8,1093.3h.01M675.2,1091.1h.01M693.8,1089.9h.01M699.9,1083.2h.01M658.2,1084.4h.01M662.2,1091.3h.01M682.2,1084.3h.01M694.0,1085.5h.01M663.4,1079.5h.01M701.2,1084.3h.01M678.4,1073.3h.01M676.3,1083.6h.01M701.2,1084.0h.01M668.5,1093.7h.01M677.9,1083.2h.01M676.5,1080.6h.01M661.0,1082.6h.01M652.8,1081.2h.01M672.9,1077.3h.01" fill="none" stroke="#222" stroke-width="1.00" stroke-linecap="round"/>
<path class="w" d="M661.2,1062.5 V1071 C663,1077.5 684,1077.5 686.2,1071 V1062.5"/>
<path class="k" d="M661.2,1066.5 C664,1072.5 683,1072.5 686.2,1066.5"/>
<ellipse class="w" cx="673.7" cy="1062.5" rx="12.5" ry="5.2"/>
<ellipse class="k" cx="673.7" cy="1062.3" rx="6" ry="2.6"/>
<path class="k" d="M673.7,1112.5 V1118.7"/>
<text x="713.2" y="1096.2" font-size="18.5" font-weight="normal" textLength="19.0" lengthAdjust="spacingAndGlyphs">53</text>
<!-- boot 17 -->
<path class="w" d="M579.5,1105 C578,1113 576,1116 574.2,1121 C573.5,1127 576,1131 579,1133 C577.5,1136 577.5,1139 579.5,1142 C578.5,1145 579.5,1148 582,1150 C590,1156 620,1156 628,1149 C630.5,1147 631.5,1144 630.5,1141.5 C633,1138.5 633.5,1135 632,1132 C634.5,1128.5 634.5,1123.5 633,1120 C632,1115 632,1110 631.5,1105 Z"/>
<ellipse class="w" cx="605.5" cy="1105" rx="26" ry="11"/>
<ellipse class="k" cx="605.5" cy="1104.5" rx="17" ry="7.2"/>
<ellipse class="w" cx="605.5" cy="1104" rx="9" ry="4.3"/>
<path class="k" d="M576.5,1117 C582,1127 625,1128 632.5,1118.5 M579,1133 C588,1140.500 622,1140.500 632,1132 M575,1125 C583,1134.500 625,1135.500 633.500,1126.500 M579.5,1142 C588,1148 622,1148 630.5,1141.500"/>
<path d="M603.1,1139.6h.01M614.0,1118.0h.01M576.6,1127.7h.01M591.6,1146.0h.01M615.4,1137.3h.01M607.8,1139.8h.01M584.3,1130.5h.01M580.3,1140.9h.01M595.2,1129.0h.01M624.0,1112.8h.01M605.0,1115.8h.01M582.4,1129.8h.01M583.7,1125.1h.01M611.4,1118.9h.01M615.7,1114.2h.01M585.8,1146.3h.01M598.8,1129.6h.01M610.0,1132.0h.01M597.9,1113.3h.01M596.3,1127.3h.01M615.3,1140.3h.01M582.5,1121.9h.01M596.7,1133.5h.01M622.2,1133.0h.01M600.5,1133.8h.01M588.7,1129.9h.01M598.1,1144.4h.01M581.8,1135.1h.01M586.1,1141.2h.01M578.1,1123.6h.01M595.6,1138.8h.01M579.0,1131.3h.01M587.9,1123.8h.01M603.1,1152.3h.01M603.4,1152.1h.01M596.8,1119.9h.01M619.9,1126.4h.01M589.8,1112.4h.01M604.7,1113.0h.01M594.4,1145.1h.01M623.4,1138.9h.01M589.1,1134.1h.01M603.2,1138.3h.01M627.0,1118.8h.01M592.6,1148.7h.01M605.4,1141.2h.01M616.2,1121.0h.01M592.2,1122.7h.01M614.9,1141.2h.01M600.0,1122.1h.01M607.9,1138.2h.01M619.3,1129.5h.01M609.5,1149.8h.01M621.0,1136.4h.01M595.8,1127.5h.01M617.9,1135.7h.01M627.5,1145.5h.01M606.5,1145.1h.01M597.6,1116.1h.01M596.1,1125.1h.01M629.2,1140.9h.01M606.9,1138.1h.01M583.1,1134.4h.01M615.9,1128.6h.01M590.0,1129.1h.01M594.4,1140.8h.01M584.1,1115.8h.01M593.8,1141.2h.01M619.3,1139.7h.01M629.3,1127.4h.01M601.3,1119.5h.01M614.0,1126.3h.01M589.6,1125.8h.01M629.8,1112.3h.01M596.5,1123.7h.01M587.5,1130.2h.01M604.6,1141.3h.01M585.3,1131.5h.01M610.6,1147.4h.01M590.2,1131.3h.01M624.7,1146.9h.01M589.0,1134.6h.01M619.4,1128.6h.01M614.4,1139.9h.01M631.4,1135.3h.01M614.8,1126.7h.01M617.7,1125.5h.01M604.5,1127.2h.01M593.5,1117.7h.01M588.9,1134.9h.01M590.4,1113.9h.01M621.8,1124.0h.01M629.4,1137.1h.01M598.2,1148.7h.01M627.1,1125.5h.01M583.2,1138.9h.01M624.0,1137.6h.01M620.7,1129.3h.01M611.2,1123.1h.01M599.2,1127.9h.01M597.9,1128.8h.01M622.0,1119.1h.01M587.7,1122.7h.01M631.3,1134.0h.01M625.8,1146.5h.01M596.5,1142.9h.01M593.4,1117.8h.01M625.3,1147.0h.01M588.0,1149.0h.01M577.4,1125.0h.01" fill="none" stroke="#222" stroke-width="1.00" stroke-linecap="round"/>
<path class="k" d="M605.5,1081.2 V1103.7 M605.5,1161.2 V1176"/>
<text x="637.5" y="1140.7" font-size="18.5" font-weight="normal" textLength="17.0" lengthAdjust="spacingAndGlyphs">17</text>
<!-- clamp 6 lower -->
<path class="k" d="M588.2,1180.0 A15.6,9.0 0 0 1 615.5,1174.1"/>
<path class="h" d="M590.4,1179.3 A15.6,9.0 0 0 1 617.2,1179.3"/>
<path class="w" d="M588.2,1180.0 V1188.5 A15.6,9.0 0 0 0 619.4,1188.5 V1180.0 A15.6,9.0 0 0 1 588.2,1180.0 Z"/>
<path class="h" d="M589.1,1186.1v5.1M591.8,1188.8v5.1M596.0,1190.8v5.1M601.1,1191.8v5.1M606.5,1191.8v5.1M611.6,1190.8v5.1M615.8,1188.8v5.1M618.5,1186.1v5.1"/>
<path class="w" d="M612.5,1172.500 L617,1168.500 C621,1168 624,1171 625,1175 L627.500,1182.500 L622.500,1185.500 L620,1178.500 Z"/>
<path class="k" d="M617.500,1172.500 L623,1178 M620.500,1183.500 L626,1187.500 L625.500,1191.500 L620.500,1189.500 M621,1189.500 V1195.500 L625.500,1197 V1191.500"/>
<text x="633.7" y="1179.5" font-size="18.5" font-weight="normal" textLength="10.0" lengthAdjust="spacingAndGlyphs">6</text>
<path class="k" d="M605,1198.7 V1205 L797.8,1137.5 V1110.3"/>
<path class="k" d="M797.8,1078 V1085 M797.8,1087.8 V1104.7"/>
</g>

<!-- 50_ru.svg -->
<g id="rightupper">
<!-- main polyline -->
<path class="k" d="M802.2,701.2 V730.6 M802.2,735 V756.2 M802.2,758.7 V763.1"/>
<!-- clamp 20 -->
<g transform="rotate(8 982.5 669.4)">
<path class="k" d="M954.4,667 A29,18 0 0 1 1012.4,667"/>
<path class="h" d="M957.5,669 A26,15.5 0 0 1 1009.4,669"/>
<path class="w" d="M954.4,667 V672 A29,18 0 0 0 1012.4,672 V667 A29,18 0 0 1 954.4,667 Z"/>
<path class="h" d="M1012.1,669.5v4.5M1011.3,671.9v4.5M1010.0,674.2v4.5M1008.1,676.4v4.5M1005.9,678.4v4.5M1003.2,680.2v4.5M1000.1,681.7v4.5M996.7,683.0v4.5M993.1,684.0v4.5M989.3,684.6v4.5M985.4,685.0v4.5M981.4,685.0v4.5M977.5,684.6v4.5M973.7,684.0v4.5M970.1,683.0v4.5M966.7,681.7v4.5M963.6,680.2v4.5M960.9,678.4v4.5M958.7,676.4v4.5M956.8,674.2v4.5M955.5,671.9v4.5M954.7,669.5v4.5"/>
<path class="h" d="M957.6,662.4v-3.0M959.8,659.6v-3.0M962.8,657.1v-3.0M966.6,654.9v-3.0M970.9,653.3v-3.0M975.7,652.2v-3.0M980.8,651.6v-3.0M986.0,651.6v-3.0M991.1,652.2v-3.0M995.9,653.3v-3.0M1000.2,654.9v-3.0M1004.0,657.1v-3.0M1007.0,659.6v-3.0M1009.2,662.4v-3.0"/>
</g>
<path class="w" d="M1012,660 C1012,655 1018,654.5 1020,658 L1021.5,668 L1021,675 L1014.5,676.5 L1012.500,668 Z"/>
<path class="k" d="M1013,664 L1020.500,662.500 M1013.500,669 L1021.500,668 M1014,673 L1021,672 M1013.500,676.500 L1017,685.500 L1014,680"/>
<text x="1024.7" y="673.5" font-size="18.5" font-weight="normal" textLength="19.0" lengthAdjust="spacingAndGlyphs">20</text>
<!-- 218 -->
<path class="w" d="M952.5,717.5 C953,704 966,697.5 982.5,697.5 C999,697.5 1012,704 1011.9,716.2 V725 C1010,734 1000,741.2 982.5,741.2 C965,741.2 955,734 953.7,725 Z"/>
<path class="k" d="M953.7,722 C957,730 968,733.7 982.5,733.7 C997,733.7 1008,730 1011.5,722"/>
<ellipse class="k" cx="982.5" cy="718" rx="19" ry="10.2"/>
<path class="k" d="M960,712.5 C962,705.500 972,701.500 982.5,701.500 C993,701.500 1003,705.500 1005,712.500"/>
<path class="h" d="M969,722 C972,716 978,713 982.500,713 M988,713.500 C993,715 996,718 997,721.500 M966,724.500 C972,728.500 993,728.500 999,724.500"/>
<path class="w" d="M964.4,703.7 L970.6,701.9 L971.2,708.1 L966.2,710 Z M998.1,705 L1005,707.5 L1002.5,711.2 L998.1,710 Z M956.9,723.1 L963.1,725 L961.2,730 L957.5,727.5 Z M999.4,725.6 L1005.6,723.1 L1005,728.1 L1001.2,731.2 Z"/>
<path class="k" d="M963.7,745.5 C970,753.5 994,753.500 999.400,745.500"/>
<text x="1016.2" y="723.7" font-size="18.5" font-weight="normal" textLength="27.0" lengthAdjust="spacingAndGlyphs">218</text>
<!-- ring 100 -->
<ellipse cx="981.5" cy="770.6" rx="16" ry="9" fill="none" stroke="#111" stroke-width="4.6"/>
<ellipse cx="981.5" cy="770.6" rx="16" ry="9" fill="none" stroke="#fff" stroke-width="1.5"/>
<path d="M984,757 L988,758.500 L988,765 L984,764 Z" fill="#fff"/>
<text x="1005.0" y="775.9" font-size="18.5" font-weight="normal" textLength="27.0" lengthAdjust="spacingAndGlyphs">100</text>
<path class="k" d="M802.2,701.2 L982.5,636.6 V684.4 M982.5,695.6 V727.5 M982.5,757.5 V776.2 M981.6,787.5 V838"/>
<!-- nut 26 left -->
<g transform="translate(876.0,732.0) rotate(30.0) scale(-1,1)">
<path class="w2" d="M0.0,12.5 L7.0,12.5 L14.8,6.2 L14.8,-6.2 L7.0,-12.5 L0.0,-12.5 Z"/>
<path class="k" d="M7.8,6.2 L14.8,6.2 M7.8,-6.2 L14.8,-6.2"/>
<path class="w2" d="M0.0,12.5 L7.8,6.2 L7.8,-6.2 L0.0,-12.5 L-7.8,-6.2 L-7.8,6.2 Z"/>
<ellipse class="k" cx="0" cy="0" rx="7.0" ry="9.8"/>
<ellipse class="k" cx="0" cy="0" rx="2.4" ry="3.9"/>
</g>
<path class="k" d="M855,718.1 L859.7,721.5 M884,735 L893.4,741.6"/>
<text x="877.5" y="712.5" font-size="18.5" font-weight="normal" textLength="19.0" lengthAdjust="spacingAndGlyphs">26</text>
<!-- stud 264 -->
<g transform="translate(916.4,754.7) rotate(29)">
<path class="w" d="M-25,-4.8 H20 L25,-3 V3 L20,4.800 H-25 Z"/>
<path class="k" d="M-22,-4.800 l2,9.600 M-18.500,-4.800 l2,9.600 M-15,-4.800 l2,9.600 M-11.500,-4.800 l2,9.600 M-8,-4.800 l2,9.600 M-4.500,-4.800 l2,9.600 M-1,-4.800 l2,9.600 M2.500,-4.800 l2,9.600 M6,-4.800 l2,9.600 M9.500,-4.800 l2,9.600 M13,-4.800 l2,9.600 M16.500,-4.800 l2,9.600"/>
</g>
<path class="k" d="M939.4,767.8 L975,789.4 M986.2,795 L995.6,801.6"/>
<text x="907.1" y="737.8" font-size="18.5" font-weight="normal" textLength="29.0" lengthAdjust="spacingAndGlyphs">264</text>
<!-- plug 139 -->
<path class="w" d="M880.2,777.5 V786 L878.400,787 V796.200 L885,805.600 L889.700,806.500 V813.500 C892,815.500 897,815.500 899,813.500 V806.500 L903.700,805.600 L909.400,796.200 V787 L907.400,786 V777.500"/>
<ellipse class="w" cx="893.8" cy="777.5" rx="13.6" ry="6"/>
<path class="k" d="M880.2,786 C884,790.5 904,790.500 907.400,786 M878.400,788 C884,793.500 904,793.500 909.400,788 M878.400,796.200 C884,801.500 904,801.500 909.400,796.200 M885,805.600 C888,808 900,808 903.700,805.600 M882,801 C887,805 901,805 906,801"/>
<path class="h" d="M881,790.500 v6 M884,792 v6 M887,792.800 v6 M890,793.300 v6 M893,793.500 v6 M896,793.500 v6 M899,793.200 v6 M902,792.500 v6 M905,791.500 v6 M907.500,790.500 v6"/>
<text x="850.9" y="794.4" font-size="18.5" font-weight="normal" textLength="25.5" lengthAdjust="spacingAndGlyphs">139</text>
<path class="k" d="M893.8,819.1 V828"/>
<path class="w" d="M881.1,831.9 V836.4 A12.7,5.6 0 0 0 906.5,836.4 V831.9"/>
<ellipse class="w" cx="893.8" cy="831.9" rx="12.7" ry="5.6"/>
<ellipse class="k" cx="893.8" cy="831.9" rx="4.2" ry="2.0"/>
<path class="h" d="M890.4,833.7 A4.2,2.0 0 0 0 897.2,833.7"/>
<text x="852.7" y="840.0" font-size="18.5" font-weight="normal" textLength="26.0" lengthAdjust="spacingAndGlyphs">140</text>
<!-- 87 -->
<g transform="translate(909,867) rotate(-18)">
<path class="w" d="M-11,-6 H10 A3.500,6 0 0 1 10,6 H-11 A3.500,6 0 0 1 -11,-6 Z"/>
<path class="k" d="M-11,-6 A3.500,6 0 0 1 -11,6"/>
</g>
<path class="k" d="M890.6,875.9 L894.4,874 M925.3,862.8 L936.6,859 M945,856.2 L956.2,851.6"/>
<text x="897.2" y="893.7" font-size="18.5" font-weight="normal" textLength="19.0" lengthAdjust="spacingAndGlyphs">87</text>
<!-- 86 -->
<g transform="translate(877.5,879.7) rotate(-18)">
<path class="w" d="M-4,-6.500 H5 A3,6.500 0 0 1 5,6.500 H-4 A3.500,6.500 0 0 1 -4,-6.500 Z"/>
<ellipse class="k" cx="-4" cy="0" rx="3.500" ry="6.500"/>
<ellipse class="k" cx="-4" cy="0.5" rx="1.800" ry="3.600"/>
</g>
<text x="870.0" y="904.6" font-size="18.5" font-weight="normal" textLength="19.0" lengthAdjust="spacingAndGlyphs">86</text>
<!-- bolt 59 + clip 22 -->
<g transform="translate(833.4,880.6)">
<path class="w2" d="M-6.5,13.5 V30.8 L-5.1,36.3 Q-4.9,37.5 -3.3,37.5 H3.3 Q4.9,37.5 5.1,36.3 L6.5,30.8 V13.5"/>
<path class="k2" d="M-2.0,15.6 H6.5"/>
<path class="k2" d="M-2.0,19.0 H6.5"/>
<path class="k2" d="M-2.0,22.5 H6.5"/>
<path class="k2" d="M-2.0,25.9 H6.5"/>
<path class="k2" d="M-2.0,29.4 H6.5"/>
<path class="h" d="M-2.2,37.0 Q0,32.5 2.2,37.0"/>
<path class="w2" d="M-12.2,-1.5 C-12.2,-8.4 -7.3,-10.5 0,-10.5 C7.3,-10.5 12.2,-8.4 12.2,-1.5 L12.2,3.7 L6.1,9.7 Q0,11.3 -6.1,9.7 L-12.2,3.7 Z"/>
<path class="k" d="M-11.4,-1.8 L-6.1,2.2 H6.1 L11.4,-1.8"/>
<path class="k" d="M-6.1,2.2 V9.4 M6.1,2.2 V9.4"/>
</g>
<text x="798.7" y="885.3" font-size="18.5" font-weight="normal" textLength="19.0" lengthAdjust="spacingAndGlyphs">59</text>
<path class="k" d="M833,921.9 V925.6 M833,939.7 V954.7 L976.9,907.8"/>
<g transform="translate(832.5,933.1) rotate(0.0)">
<path d="M-1.5,4.0 C-6.9,5.0 -11.5,4.0 -11.5,0.0 C-11.5,-4.0 -6.3,-5.2 -2.5,-3.0 L2.5,3.0 C6.3,5.2 11.5,4.0 11.5,0.0 C11.5,-4.0 6.9,-5.0 1.5,-4.0" fill="none" stroke="#111" stroke-width="4.4" stroke-linecap="round"/>
<path d="M-1.5,4.0 C-6.9,5.0 -11.5,4.0 -11.5,0.0 C-11.5,-4.0 -6.3,-5.2 -2.5,-3.0 L2.5,3.0 C6.3,5.2 11.5,4.0 11.5,0.0 C11.5,-4.0 6.9,-5.0 1.5,-4.0" fill="none" stroke="#fff" stroke-width="1.3" stroke-linecap="round"/>
</g>
<text x="797.8" y="937.4" font-size="18.5" font-weight="normal" textLength="19.0" lengthAdjust="spacingAndGlyphs">22</text>
<text x="937.1" y="937.8" font-size="18.5" font-weight="normal" textLength="19.0" lengthAdjust="spacingAndGlyphs">56</text>
<!-- housing 56 -->
<path class="w" d="M952.5,828.1 L949.7,875 L940.3,872.2 C934,873 928,878 925.3,882.5 L923.4,891.9 L928.1,901.200 L946.9,914.4 L961.9,923.700 L1005,933.1 L1021.9,933.1 L1058.4,920 L1059.4,914.4 L1050,905 L1050,901.200 L1082.8,892.800 L1085.600,882.500 V862 L1073,858 L1077,852 C1081,849 1081.500,838 1078,833.500 L1073.400,822 C1072,815 1069,811 1065,809.500 L1048.100,794.400 L1029.400,790.600 L1003.100,800.900 L1003.100,805.600 L1010.600,816.900 L1011.600,828.100 Z"/>
<ellipse class="w" cx="981.9" cy="827.2" rx="29.5" ry="17.3"/>
<ellipse class="k" cx="981.9" cy="827.8" rx="18.3" ry="11.2"/>
<path class="k" d="M966,833.500 C972,829.500 992,829.500 998,833.500"/>
<path class="k" d="M1011.200,832 L1010.600,841.200"/>
<path class="k" d="M981.8,805 V836.5"/>
<!-- base flange -->
<path class="k" d="M932.8,890.9 L934.7,901.200 L956.2,918.100 L1010.600,929.400 L1021.900,928.400 L1056.600,915.300"/>
<path class="k" d="M940.300,872.200 L948,876 L958,881 C963,885 966,889 968,892.500 M933,889 C938,885.500 947,885.500 950,889.500 L960,896 M968,892.500 L985,890.500"/>
<circle class="k" cx="939.4" cy="890" r="3.600"/><circle class="h" cx="930" cy="883.8" r="1.800"/>
<circle class="k" cx="978.7" cy="913.4" r="2.300"/><circle class="k" cx="1016.2" cy="923.7" r="2.600"/><circle class="k" cx="1050" cy="912.9" r="2.600"/>
<path class="k" d="M977,905.500 L978.700,911"/>
<!-- ribs -->
<path class="k" d="M993.700,845 C990,860 985,885 977.800,905 M999.400,845 L992.800,901.200 L1010.600,921.900 M1005,848.700 L1005.900,901.200 M999.400,845 C1001,842.500 1004,842.500 1005,848.700 M1020,839.400 L1018.100,890 M1029.400,839.400 C1030,860 1032,878 1035,890 L1048.100,905 M1020,839.400 C1022,836 1028,836 1029.400,839.400 M1005.900,901.200 L1018.100,890 L1035,890"/>
<path class="h" d="M999,850 v3 M998,876 v3 M1025,848 v3 M1024.500,871.500 v3 M1009,860 L1008.500,895 M1014,848 L1013,889"/>
<ellipse class="h" cx="1010.500" cy="848" rx="3" ry="2"/>
<!-- right body -->
<path class="k" d="M1038.700,824.400 L1038.700,882.500 M1042,828 L1041.500,880 M1048.100,845 L1050,901.200 M1038.700,882.500 C1041,879 1046,879.500 1048.500,882.500 M1038.700,886.500 C1042,889.500 1046,889.500 1049,886.500"/>
<!-- top plate -->
<path class="w" d="M1003.100,800.900 L1029.400,790.600 L1048.100,794.400 L1065,810.300 L1061.200,816.900 L1035,823.400 L1010.600,816.900 L1003.100,805.600 Z"/>
<path class="k" d="M1003.100,805.600 L1004,809 L1011.500,820.500 L1035,827 L1061,820.500 L1065,812"/>
<ellipse class="k" cx="1032.2" cy="807.5" rx="18.700" ry="10.800" transform="rotate(8 1032.2 807.5)"/>
<path class="k" d="M1019,811 C1024,806.500 1030,804 1036,803.500 M1033,806.500 L1037.500,802.500 L1041,808.500 M1024,815.500 C1030,818 1040,817.500 1045,814.500"/>
<g class="hw"><circle cx="1008.4" cy="803.700" r="1.900"/><circle cx="1030.7" cy="794.400" r="1.700"/><circle cx="1057.500" cy="811.600" r="1.900"/><circle cx="1035.900" cy="820.600" r="1.700"/></g>
<path class="k" d="M1065,809.400 C1070,811 1073,816 1073.400,821.600"/>
<!-- boss -->
<path class="w" d="M1050,826 L1066,826.500 C1072,827 1078,832 1080,840 C1082,848 1080,855 1075,857.500 L1060,861 C1054,858 1051.500,850 1051.900,841.200 Z"/>
<path class="k" d="M1058,827.500 C1053.500,834 1053.500,852 1059,860 M1062,827.500 C1057.500,834 1058,852 1063.500,859.500 M1066,828 C1062,835 1062.500,851 1067.500,858.500"/>
<ellipse class="w" cx="1071.600" cy="844.100" rx="8.900" ry="12.200" transform="rotate(-12 1071.600 844.100)"/>
<ellipse class="k" cx="1071.600" cy="844.800" rx="5" ry="7.200" transform="rotate(-12 1071.600 844.800)"/>
<!-- lower right block -->
<path class="k" d="M1072.500,862 V890 M1076.500,864 V889 M1082.800,892.800 L1085.600,882.500 M1074,861.500 C1075,858 1078.500,858.500 1079,862 M1079,866 C1080,863 1083.500,863.500 1084,867 M1080,872 C1081.500,869.500 1085,870 1085.500,873"/>
<circle class="k" cx="1059" cy="861.900" r="2.200"/>
<path class="k" d="M1060.500,863 L1149,913.500"/>
<!-- hole on cylinder -->
<circle class="k" cx="957.700" cy="851" r="2.400"/>
<path class="h" d="M945.900,867.500 L945,876.900" stroke-dasharray="3 2.500"/>
<path class="k" d="M893.8,845 V849.7 L939.4,834.7 L940.3,886.2"/>
<!-- 58 -->
<path class="w" d="M1073.700,733.100 V762 L1075.500,766.900 H1085 L1086.900,762 V733.100"/>
<path class="k" d="M1079,753 H1086.900 M1079,757.500 H1086.900 M1079,762 H1086.900"/>
<path class="w" d="M1067.500,713.400 V723.500 C1070,730.500 1090,730.500 1092.300,723.500 V713.400"/>
<ellipse class="w" cx="1079.900" cy="713.400" rx="12.400" ry="6.500"/>
<path class="k" d="M1076.500,712 C1077,715.500 1083,715.500 1083.500,712 M1078.500,710 L1081.500,710"/>
<text x="1092.5" y="745.3" font-size="18.5" font-weight="normal" textLength="19.0" lengthAdjust="spacingAndGlyphs">58</text>
<path class="k" d="M1079.700,771.600 V777.200"/>
<g transform="translate(1079.4,783.7) rotate(0.0)">
<path d="M-1.5,4.0 C-7.2,5.0 -12.0,4.0 -12.0,0.0 C-12.0,-4.0 -6.6,-5.2 -2.6,-3.0 L2.6,3.0 C6.6,5.2 12.0,4.0 12.0,0.0 C12.0,-4.0 7.2,-5.0 1.5,-4.0" fill="none" stroke="#111" stroke-width="4.4" stroke-linecap="round"/>
<path d="M-1.5,4.0 C-7.2,5.0 -12.0,4.0 -12.0,0.0 C-12.0,-4.0 -6.6,-5.2 -2.6,-3.0 L2.6,3.0 C6.6,5.2 12.0,4.0 12.0,0.0 C12.0,-4.0 7.2,-5.0 1.5,-4.0" fill="none" stroke="#fff" stroke-width="1.3" stroke-linecap="round"/>
</g>
<text x="1094.4" y="781.9" font-size="18.5" font-weight="normal" textLength="19.0" lengthAdjust="spacingAndGlyphs">22</text>
<path class="k" d="M1079.400,791.200 V805 M1079,809 V822 M1078.500,826 V829" />
<path class="h" d="M1077.500,862 V870 M1077.200,874 V886" />
<!-- 104 -->
<g transform="translate(1112,803.500) rotate(-17)">
<path class="w" d="M3,-12.200 H8 A8,12.200 0 0 1 8,12.200 H3 Z"/>
<ellipse class="w" cx="3.5" cy="0" rx="7.500" ry="12.200"/>
<path class="k" d="M7,-12 A7.500,12.200 0 0 1 7,12"/>
<path class="w" d="M-5.500,-9.400 H2 A6.600,9.400 0 0 1 2,9.400 H-5.500 Z"/>
<ellipse class="w" cx="-5.500" cy="0" rx="6.600" ry="9.400"/>
<ellipse class="k" cx="-6" cy="0.500" rx="2.600" ry="3.800"/>
</g>
<path class="k" d="M1075.600,815.600 L1102.800,806.200 M1130.400,797.200 L1139.400,794"/>
<text x="1131.5" y="819.0" font-size="18.5" font-weight="normal" textLength="27.0" lengthAdjust="spacingAndGlyphs">104</text>
<!-- B -->
<path class="k" d="M1074,846 L1110,865.600"/>
<circle cx="1125.0" cy="872.2" r="16.9" fill="#0a0a0a"/><text x="1115.5" y="883.7" font-size="32.5" font-weight="bold" textLength="19.0" lengthAdjust="spacingAndGlyphs" style="fill:#fff;stroke:#fff;stroke-width:0.7">B</text>
</g>

<!-- 60_rl.svg -->
<g id="rightlower">
<!-- 311 -->
<path class="w" d="M880.6,963.1 L884,959.500 L893,964.500 L894.500,959 L899,957.500 L908.700,966.900 L905.500,973 L906,983.500 L911,987 C914.500,989.500 914.500,998 911,1001 L904.500,1004 L889,992 L888.500,975 L892,972.500 L881.500,966.500 Z"/>
<path class="k" d="M893,964.500 L898,968 L905.500,966 M898,968 L897,973 M892,972.500 L896.500,976.500 L905.500,973 M896.500,976.500 L896.500,986 M889,992 L896.500,986 L906,983.500 M898.500,979 C900,977 903,977.500 903.500,980"/>
<circle class="w" cx="906.9" cy="995" r="6.200"/>
<path class="k" d="M909,992 C906,991.500 904,993.500 904,996 C904,998 906,999.500 909,998.500"/>
<path class="k" d="M900.500,1000.500 L895,996.500"/>
<text x="855.3" y="975.9" font-size="18.5" font-weight="normal" textLength="24.0" lengthAdjust="spacingAndGlyphs">311</text>
<path class="k" d="M875,1002.5 L890,997.8"/>
<!-- 312 -->
<path class="w" d="M850.6,1000.6 L861.9,989.400 C865,987.500 868,989 869.400,993.100 L872,1003 L874.100,1009 L882.500,1005.300 C886,1004 890,1005 891.900,1008.100 C895,1012 895.500,1017 894.700,1020 L890,1026.900 L875,1036.200 L863.700,1030.600 L846.900,1058.700 L833.700,1063.400 L817.800,1053.100 V1049.400 L824.400,1046.600 L833.700,1048.400 L837.500,1051.200 L846.900,1025 V1006.200 Z"/>
<path class="k" d="M861,997.500 C862,994 866.500,994 867,997.500 C867.500,1001 866,1003 864.500,1005 M858.500,996 C857,1000 858,1005 861,1009 L866,1013 L874.100,1009 M850.600,1000.600 L870,1018 L875,1036.200 M870,1018 L878,1014"/>
<ellipse class="k" cx="887.7" cy="1017.5" rx="5.600" ry="7.600" transform="rotate(25 887.7 1017.5)"/>
<path class="k" d="M885,1022.500 C883.500,1019 884.500,1014.500 887,1012"/>
<ellipse class="k" cx="828.1" cy="1051.2" rx="3.600" ry="2.500"/>
<path class="k" d="M826.500,1053.500 C824,1052 825,1049 828.500,1049"/>
<path class="h" d="M837.500,1051.200 L840,1062 M856.200,1030.600 L847.800,1040 L839.400,1060.600"/>
<text x="865.6" y="1060.6" font-size="18.5" font-weight="normal" textLength="26.0" lengthAdjust="spacingAndGlyphs">312</text>
<!-- 259 -->
<path class="k" d="M980.9,935.900 V944.400"/>
<path class="w" d="M965.9,950.900 L975.300,946.200 L981,950.500 L983,942 L987.500,940.600 L996.900,942.500 L1007.200,951.900 L1006.200,957.500 L989.400,965 L987.500,998.700 L986,1012 C985,1022 983,1030 980.500,1036 L1006.200,1032.500 L1017.500,1017.500 L1017.500,1002.500 L1021,1006 L1021,1020 C1014,1036 996,1049 978.100,1053.500 C966,1056.500 954,1058.500 948.100,1056.900 L940,1049 L935.900,1040 L943,1036 L949.500,1046.500 C960,1046.500 970,1043 974.400,1036.200 C978,1022 981,1000 982.800,965 L968.700,957.500 Z"/>
<path class="k" d="M983,942 L982.800,951 C984,954 988,954.500 990.500,952.500 L991.500,944.500 M965.900,950.900 L985.600,960 L1007.200,951.900 M985.600,960 V965"/>
<path class="k" d="M943,1036 L938.500,1039 M940,1042 L946,1051.500 M944.500,1040.500 L950.500,1050.500 M953,1042.500 C960,1041 968,1038 973,1033.500 M953,1046 C961,1045 969,1042 974.400,1038.500 M957,1040.500 C963,1039 968,1036.500 972.500,1033"/>
<path class="w" d="M991.200,974.400 L1008,968.500 L1013,973 L1013,985 C1019,986 1020,996 1017,1000 L1011,1002.500 L1002,1001.500 L991.200,993 Z"/>
<path class="k" d="M991.200,974.400 L999,980 L1013,976.500 M999,980 L1000,998"/>
<circle class="w" cx="1011.9" cy="993.100" r="8"/>
<path class="k" d="M1015,989 C1011,988 1007.500,990.500 1007.500,993.500 C1007.500,996.500 1011,998.500 1015,997.500"/>
<path class="k" d="M1001,971 L1001,966 L1004.500,965 V970 M1000,972 C1002,974.500 1005,974.500 1007.500,972.500"/>
<path class="k" d="M993,1004 L992,1038 M993,1004 L1012,1008 M995,1012 L1008,1018 M995,1020 L1004,1025 M994,1028 L1000,1031"/>
<path class="k" d="M1005.3,962.2 L1025,955.6 L1026.9,995 L1040,992.200"/>
<text x="1021.2" y="1026.9" font-size="18.5" font-weight="normal" textLength="29.0" lengthAdjust="spacingAndGlyphs">259</text>
<!-- bolt 214 -->
<g transform="translate(1048.0,944.0)">
<path class="w2" d="M-6.1,14.2 V30.0 L-4.7,35.1 Q-4.5,36.2 -2.9,36.2 H2.9 Q4.5,36.2 4.7,35.1 L6.1,30.0 V14.2"/>
<path class="k2" d="M-1.6,17.3 H6.1"/>
<path class="k2" d="M-1.6,22.6 H6.1"/>
<path class="k2" d="M-1.6,27.9 H6.1"/>
<path class="h" d="M-2.2,35.7 Q0,31.2 2.2,35.7"/>
<path class="w2" d="M-13.0,-1.5 C-13.0,-8.9 -7.8,-11.2 0,-11.2 C7.8,-11.2 13.0,-8.9 13.0,-1.5 L13.0,3.9 L6.5,10.3 Q0,12.1 -6.5,10.3 L-13.0,3.9 Z"/>
<path class="k" d="M-12.2,-1.8 L-6.5,2.2 H6.5 L12.2,-1.8"/>
<path class="k" d="M-6.5,2.2 V10.1 M6.5,2.2 V10.1"/>
</g>
<text x="1056.6" y="967.7" font-size="18.5" font-weight="normal" textLength="27.0" lengthAdjust="spacingAndGlyphs">214</text>
<path class="k" d="M1048.4,986.600 V989.700 L1027.100,995.800 L1024.100,955.200"/>
<!-- bolt 27 -->
<g transform="translate(1111.4,913.5)">
<path class="w2" d="M-6.5,14.2 V22.8 L-5.1,25.6 Q-4.9,26.2 -3.3,26.2 H3.3 Q4.9,26.2 5.1,25.6 L6.5,22.8 V14.2"/>
<path class="k2" d="M-2.0,16.8 H6.5"/>
<path class="k2" d="M-2.0,21.1 H6.5"/>
<path class="h" d="M-2.2,25.7 Q0,21.2 2.2,25.7"/>
<path class="w2" d="M-13.0,-1.5 C-13.0,-8.9 -7.8,-11.2 0,-11.2 C7.8,-11.2 13.0,-8.9 13.0,-1.5 L13.0,3.9 L6.5,10.3 Q0,12.1 -6.5,10.3 L-13.0,3.9 Z"/>
<path class="k" d="M-12.2,-1.8 L-6.5,2.2 H6.5 L12.2,-1.8"/>
<path class="k" d="M-6.5,2.2 V10.1 M6.5,2.2 V10.1"/>
</g>
<text x="1082.0" y="935.9" font-size="18.5" font-weight="normal" textLength="19.0" lengthAdjust="spacingAndGlyphs">27</text>
<path class="k" d="M1110.800,945 V950"/>
<g transform="translate(1110.4,956.8) rotate(0.0)">
<path d="M-1.5,4.0 C-6.6,5.0 -11.0,4.0 -11.0,0.0 C-11.0,-4.0 -6.1,-5.2 -2.4,-3.0 L2.4,3.0 C6.1,5.2 11.0,4.0 11.0,0.0 C11.0,-4.0 6.6,-5.0 1.5,-4.0" fill="none" stroke="#111" stroke-width="4.4" stroke-linecap="round"/>
<path d="M-1.5,4.0 C-6.6,5.0 -11.0,4.0 -11.0,0.0 C-11.0,-4.0 -6.1,-5.2 -2.4,-3.0 L2.4,3.0 C6.1,5.2 11.0,4.0 11.0,0.0 C11.0,-4.0 6.6,-5.0 1.5,-4.0" fill="none" stroke="#fff" stroke-width="1.3" stroke-linecap="round"/>
</g>
<text x="1126.2" y="961.2" font-size="18.5" font-weight="normal" textLength="19.0" lengthAdjust="spacingAndGlyphs">28</text>
<!-- 141 -->
<path class="w" d="M1074.800,983.600 V988.600 A24.400,13.700 0 0 0 1123.600,988.600 V983.600"/>
<ellipse class="w" cx="1099.2" cy="983.600" rx="24.400" ry="13.700"/>
<g transform="translate(1097.200,982) rotate(-17.500)"><rect class="k" x="-15" y="-3.200" width="30" height="6.400" rx="3.200"/></g>
<ellipse class="k" cx="1089" cy="977.500" rx="2.400" ry="1.600"/><ellipse class="k" cx="1110.400" cy="990.700" rx="2.400" ry="1.600"/>
<path class="k" d="M1110.800,965.300 V990"/>
<text x="1129.7" y="992.7" font-size="18.5" font-weight="normal" textLength="24.0" lengthAdjust="spacingAndGlyphs">141</text>
<!-- 165 -->
<path class="k" d="M1074.500,1004 C1072,1012 1082,1023 1099.200,1023.500 C1116,1023 1127,1012 1124.500,1002.500 M1074.500,1007.500 C1074,1016 1084,1026.500 1099.200,1027 C1115,1026.500 1126,1016.500 1124.500,1006.500 M1080,1003.500 C1080,1011 1088,1018 1099.200,1018.500 C1110,1018 1119,1011 1119.500,1004.500"/>
<path class="k" d="M1100.200,1007 V1013"/>
<text x="1130.7" y="1016.1" font-size="18.5" font-weight="normal" textLength="26.0" lengthAdjust="spacingAndGlyphs">165</text>
<path class="k" d="M1100.200,1028.300 V1040.500"/>
<!-- 163 -->
<path class="k" d="M1091.100,1052.700 V1061 C1092,1067.500 1108,1067.500 1109.400,1061 V1052.700"/>
<path class="w" d="M1087.600,1041.500 V1046.500 C1090,1052.500 1110,1052.500 1112,1046.500 V1041.500"/>
<ellipse class="w" cx="1099.800" cy="1041.500" rx="12.200" ry="6.200"/>
<ellipse class="k" cx="1099.800" cy="1041.800" rx="2.600" ry="1.500"/>
<text x="1116.5" y="1054.3" font-size="18.5" font-weight="normal" textLength="26.0" lengthAdjust="spacingAndGlyphs">163</text>
<path class="k" d="M1100,1070.500 V1075"/>
<!-- spring 45 -->
<path class="k" d="M1095.500,1078 C1097,1080.500 1103,1080.500 1105,1078 M1095,1082 C1096,1086.500 1104,1086.500 1105.500,1082 M1095,1086.500 C1096,1091 1104,1091 1105.500,1086.500 M1095,1091 C1096,1095.500 1104,1095.500 1105.500,1091 M1095,1095.500 C1096,1099.500 1104,1099.500 1105.500,1095.500" stroke-width="2.200"/>
<text x="1112.4" y="1092.3" font-size="18.5" font-weight="normal" textLength="19.0" lengthAdjust="spacingAndGlyphs">45</text>
<path class="k" d="M1101.200,1099.400 V1106.500 L1030,1067.500 V1075"/>
<!-- nut 26 right, bolt 57 -->
<g transform="translate(1161.5,921.0) rotate(30.0) scale(-1,1)">
<path class="w2" d="M0.0,12.5 L7.0,12.5 L14.8,6.2 L14.8,-6.2 L7.0,-12.5 L0.0,-12.5 Z"/>
<path class="k" d="M7.8,6.2 L14.8,6.2 M7.8,-6.2 L14.8,-6.2"/>
<path class="w2" d="M0.0,12.5 L7.8,6.2 L7.8,-6.2 L0.0,-12.5 L-7.8,-6.2 L-7.8,6.2 Z"/>
<ellipse class="k" cx="0" cy="0" rx="7.0" ry="9.8"/>
<ellipse class="k" cx="0" cy="0" rx="2.4" ry="3.9"/>
</g>
<text x="1176.0" y="910.5" font-size="18.5" font-weight="normal" textLength="19.0" lengthAdjust="spacingAndGlyphs">26</text>
<path class="k" d="M1171.300,925.700 L1182.500,931.800"/>
<g transform="translate(1238.5,964.8) rotate(31.0)">
<path class="w" d="M-6.5,-5.0 H-60.5 A2.5,5.0 0 0 0 -60.5,5.0 H-6.5 Z"/>
<path class="k" d="M-58.2,-5.0 A2.5,5.0 0 0 1 -58.2,5.0"/>
<path class="k" d="M-55.0,-5.0 A2.5,5.0 0 0 1 -55.0,5.0"/>
<path class="k" d="M-51.7,-5.0 A2.5,5.0 0 0 1 -51.7,5.0"/>
<path class="k" d="M-48.5,-5.0 A2.5,5.0 0 0 1 -48.5,5.0"/>
<path class="k" d="M-45.2,-5.0 A2.5,5.0 0 0 1 -45.2,5.0"/>
<path class="k" d="M-42.0,-5.0 A2.5,5.0 0 0 1 -42.0,5.0"/>
<path class="k" d="M-38.7,-5.0 A2.5,5.0 0 0 1 -38.7,5.0"/>
<path class="k" d="M-35.5,-5.0 A2.5,5.0 0 0 1 -35.5,5.0"/>
<path class="k" d="M-32.2,-5.0 A2.5,5.0 0 0 1 -32.2,5.0"/>
<path class="k" d="M-29.0,-5.0 A2.5,5.0 0 0 1 -29.0,5.0"/>
<path class="k" d="M-25.7,-5.0 A2.5,5.0 0 0 1 -25.7,5.0"/>
<path class="k" d="M-22.5,-5.0 A2.5,5.0 0 0 1 -22.5,5.0"/>
<path class="k" d="M-19.2,-5.0 A2.5,5.0 0 0 1 -19.2,5.0"/>
<path class="k" d="M-16.0,-5.0 A2.5,5.0 0 0 1 -16.0,5.0"/>
<path class="k" d="M-12.7,-5.0 A2.5,5.0 0 0 1 -12.7,5.0"/>
<path class="k" d="M-9.5,-5.0 A2.5,5.0 0 0 1 -9.5,5.0"/>
<path class="w2" d="M-6.5,-12.0 L3.2,-12.5 L6.5,-6.5 L6.5,6.5 L3.2,12.5 L-6.5,12.0 A4,12.5 0 0 1 -6.5,-12.0 Z"/>
<path class="k" d="M-3.3,-5.2 L6.5,-6.2 M-3.3,5.6 L6.5,6.2"/>
<path class="k" d="M-6.0,-11.2 A4,12.5 0 0 1 -6.0,11.2"/>
</g>
<text x="1226.2" y="946.0" font-size="18.5" font-weight="normal" textLength="19.0" lengthAdjust="spacingAndGlyphs">57</text>
<!-- housing 258 -->
<path class="w" d="M921.200,1091.200 L930,1082.500 L945,1072.500 L980,1066.200 L986.200,1066.200 L995,1060 L1025,1052.500 L1040,1053.700 L1085,1082.500 V1091.200 L1080,1095 L1070,1093.700 L1045,1103.700 L1041.200,1108.700 L1057.500,1118.700 L1067.500,1116.200 L1071.200,1122.500 L1070,1170 L1060,1190 L1020,1206.200 L1007.500,1213.700 C998,1218 990,1221 980,1221.200 L960,1220 L945,1210 L937.500,1205 L920,1197.500 C914,1194 911,1190 911.200,1185 L921.200,1113.700 L922.500,1100 Z"/>
<path class="k" d="M921.200,1091.200 L922.500,1100 L927.500,1110 L960,1127.500 L995,1135 L1005,1137.500 L1015,1134"/>
<path class="k" d="M924.500,1092 L930.500,1106.500 L961,1123.500 L996,1131.500 L1006,1133"/>
<path class="k" d="M933.700,1092.500 L942.500,1083.700 L970,1072.500 L995,1072.500 L1027.500,1090 V1108.700 L1040,1116.200 L1037.500,1122.500 L1010,1127.500 L1000,1125 L970,1116.200 L940,1106.200 Z"/>
<path class="k" d="M937.500,1094 L945,1087 L968,1077.500 M941,1105 L945,1090 M968,1077.500 L976,1105 L981,1110 M998,1076.500 L999,1098 L1027,1109 M968,1112.500 L976,1105 L1000,1111 M1000,1125 V1112 L1027.500,1108.700 M945,1090 L972,1082"/>
<path class="h" d="M950,1100 L968,1095 M1003,1085 L1020,1094 M955,1104 L966,1101"/>
<path class="w" d="M998.700,1141.200 L1070,1117.500 L1071.200,1122.500 L1070,1170 L1060,1190 L1020,1206.200 L1007.500,1210 L998.700,1205 Z"/>
<path class="k" d="M1003.700,1144 V1206 M998.700,1141.200 L1005,1137.500 M1003.700,1144 L1068,1122.500"/>
<ellipse class="k" cx="1038.700" cy="1163.700" rx="10.200" ry="14.600" transform="rotate(22 1038.700 1163.700)"/>
<path class="k" d="M1044,1152 C1041,1158 1039,1168 1039.500,1176"/>
<g class="k"><path d="M1008.500,1149 a2,2 0 1 1 3,-2.500 M1036,1139 a2,2 0 1 1 3,-2.500 M1063.500,1128 a2,2 0 1 1 3,-2.500 M1063.500,1154 a2,2 0 1 1 3,-2.500 M1058.500,1186.500 a2,2 0 1 1 3,-2.500 M1036,1194 a2,2 0 1 1 3,-2.500 M1008.500,1204 a2,2 0 1 1 3,-2.500 M1007.200,1175.200 a2,2 0 1 1 3,-2.500"/></g>
<path class="k" d="M1012,1204.500 L1020,1208.500"/>
<!-- body lines -->
<path class="k" d="M958,1135 C956,1160 950,1185 945,1210 M990,1137 L992,1196 M982.500,1188.700 L998,1196 M980,1136 L979,1186"/>
<path class="h" d="M966,1132 L975,1134.500 M975,1222 C985,1215 988,1200 988,1192 M985,1218 C990,1213 992,1205 993,1197"/>
<path class="k" d="M980,1056.900 L981.200,1110 M985.600,1064.400 L986.200,1110"/>
<!-- top right plate -->
<path class="k" d="M1030,1067.500 L1082,1094"/>
<ellipse class="k" cx="1027.500" cy="1077.500" rx="5.500" ry="3.400"/>
<path class="k" d="M1027.500,1067 V1076"/>
<g class="hw"><circle cx="1018.500" cy="1072" r="1.600"/><circle cx="1038" cy="1083.500" r="1.600"/><circle cx="1025" cy="1055.500" r="1.600"/><circle cx="1077.500" cy="1083.500" r="2"/><circle cx="1035" cy="1099" r="1.600"/><circle cx="1047" cy="1118" r="1.800"/><circle cx="1014" cy="1130.500" r="1.800"/><circle cx="974" cy="1121.500" r="1.800"/><circle cx="928" cy="1089" r="1.800"/><circle cx="948.500" cy="1075.500" r="1.800"/></g>
<path class="k" d="M1045,1103.700 L1065,1097.500 M1050,1108.500 L1070,1102"/>
<!-- A -->
<path class="k" d="M1040,1163.700 L1088.700,1190"/>
<circle cx="1103.2" cy="1199.2" r="16.9" fill="#0a0a0a"/><text x="1092.7" y="1210.7" font-size="32.5" font-weight="bold" textLength="21.0" lengthAdjust="spacingAndGlyphs" style="fill:#fff;stroke:#fff;stroke-width:0.7">A</text>
<text x="951.2" y="1243.7" font-size="18.5" font-weight="normal" textLength="28.0" lengthAdjust="spacingAndGlyphs">258</text><circle cx="984.500" cy="1236.500" r="1.600" fill="#111"/><text x="994.0" y="1243.7" font-size="18.5" font-weight="normal" textLength="28.5" lengthAdjust="spacingAndGlyphs">160</text>
<!-- bolt 59 bottom-left -->
<g transform="translate(838.7,1173.7) rotate(216.5)">
<path class="w" d="M-6.0,-5.0 H-38.0 A2.5,5.0 0 0 0 -38.0,5.0 H-6.0 Z"/>
<path class="k" d="M-35.9,-5.0 A2.5,5.0 0 0 1 -35.9,5.0"/>
<path class="k" d="M-32.9,-5.0 A2.5,5.0 0 0 1 -32.9,5.0"/>
<path class="k" d="M-29.9,-5.0 A2.5,5.0 0 0 1 -29.9,5.0"/>
<path class="k" d="M-26.9,-5.0 A2.5,5.0 0 0 1 -26.9,5.0"/>
<path class="k" d="M-23.9,-5.0 A2.5,5.0 0 0 1 -23.9,5.0"/>
<path class="k" d="M-20.9,-5.0 A2.5,5.0 0 0 1 -20.9,5.0"/>
<path class="k" d="M-17.9,-5.0 A2.5,5.0 0 0 1 -17.9,5.0"/>
<path class="k" d="M-14.9,-5.0 A2.5,5.0 0 0 1 -14.9,5.0"/>
<path class="k" d="M-11.9,-5.0 A2.5,5.0 0 0 1 -11.9,5.0"/>
<path class="k" d="M-8.9,-5.0 A2.5,5.0 0 0 1 -8.9,5.0"/>
<path class="w2" d="M-6.0,-11.5 L3.0,-12.0 L6.0,-6.2 L6.0,6.2 L3.0,12.0 L-6.0,11.5 A4,12.0 0 0 1 -6.0,-11.5 Z"/>
<path class="k" d="M-2.8,-5.0 L6.0,-6.0 M-2.8,5.4 L6.0,6.0"/>
<path class="k" d="M-5.5,-10.8 A4,12.0 0 0 1 -5.5,10.8"/>
</g>
<text x="855.0" y="1166.2" font-size="18.5" font-weight="normal" textLength="19.0" lengthAdjust="spacingAndGlyphs">59</text>
<path class="k" d="M875,1193.700 L885,1200 M897.500,1205 L911.200,1215 L982.500,1188.700"/>
<g transform="translate(891.2,1203.7) rotate(-65.0)">
<path d="M-1.5,3.5 C-6.3,4.4 -10.5,3.5 -10.5,0.0 C-10.5,-3.5 -5.8,-4.5 -2.3,-2.6 L2.3,2.6 C5.8,4.5 10.5,3.5 10.5,0.0 C10.5,-3.5 6.3,-4.4 1.5,-3.5" fill="none" stroke="#111" stroke-width="4.4" stroke-linecap="round"/>
<path d="M-1.5,3.5 C-6.3,4.4 -10.5,3.5 -10.5,0.0 C-10.5,-3.5 -5.8,-4.5 -2.3,-2.6 L2.3,2.6 C5.8,4.5 10.5,3.5 10.5,0.0 C10.5,-3.5 6.3,-4.4 1.5,-3.5" fill="none" stroke="#fff" stroke-width="1.3" stroke-linecap="round"/>
</g>
<text x="885.5" y="1186.2" font-size="18.5" font-weight="normal" textLength="19.0" lengthAdjust="spacingAndGlyphs">22</text>
</g>

<!-- 99_wm.svg -->
<defs>
<mask id="smask" maskUnits="userSpaceOnUse" x="990" y="600" width="100" height="120">
<path d="M1065,634 C1059,623 1049,621 1037,621 C1022,621 1014,628 1014,638 C1014,650 1026,654 1038,658 C1052,662 1061,668 1061,680 C1061,691 1050,697 1037,697 C1023,697 1013,692 1008,680" fill="none" stroke="#fff" stroke-width="25.6"/>
<path d="M1065.7,635.3 C1059,623 1049,621 1037,621 C1022,621 1014,628 1014,638 C1014,650 1026,654 1038,658 C1052,662 1061,668 1061,680 C1061,691 1050,697 1037,697 C1023,697 1013,692 1007.3,678.7" fill="none" stroke="#000" stroke-width="22.4"/>
</mask>
</defs>
<g id="wm" style="mix-blend-mode:multiply">
<path class="wm" d="M216.4,611 H272.7 V632 H241.4 V648.6 H268.7 V669 H241.4 V706.9 H216.4 Z"/>
<path class="wm" d="M284,611 H309 V668 A17,19.7 0 0 0 343,668 V611 H368 V668 A42,41.5 0 0 1 284,668 Z"/>
<path id="x1" class="wx" d="M383,570.7 H426.2 L446.7,606.7 L468,570.7 H511.2 L468,634.2 L517,706.7 H475.5 L446.7,663 L417.5,706.7 H373 L426.2,634.2 Z"/>
<path class="wx" transform="translate(149,0)" d="M383,570.7 H426.2 L446.7,606.7 L468,570.7 H511.2 L468,634.2 L517,706.7 H475.5 L446.7,663 L417.5,706.7 H373 L426.2,634.2 Z"/>
<path class="wm" d="M679.8,611.3 H724 C745,611.3 753.4,625 753.4,642.7 C753.4,660 745,674.2 724,674.2 H705.2 V706.9 H679.8 Z M705.2,631.3 V655.3 H717 C726,655.3 728.4,650 728.4,643.3 C728.4,636.5 726,631.3 717,631.3 Z"/>
<path class="wm" d="M745.1,706.9 L781.7,611.3 H810 L845.3,706.9 H818.7 L813.5,689.7 H778.3 L772.3,706.9 Z M784.8,670.8 H806.3 L795.5,640.4 Z"/>
<path class="wm" d="M852.1,611.1 H897 C916,611.1 924,623 924,638.5 C924,652 917,661 905,664.5 L931.4,706.8 H903.5 L881,668 H877.1 V706.8 H852.1 Z M877.1,630 V654.5 H889 C896.5,654.5 898.6,649 898.6,642.2 C898.6,635.5 896.5,630 889,630 Z"/>
<path class="wm" d="M930.8,611.1 H997.2 V632.6 H977.7 V706.8 H951.3 V632.6 H930.8 Z"/>
<rect x="990" y="600" width="100" height="120" fill="#cdcdcd" mask="url(#smask)"/>
</g>

</svg>
</body></html>
